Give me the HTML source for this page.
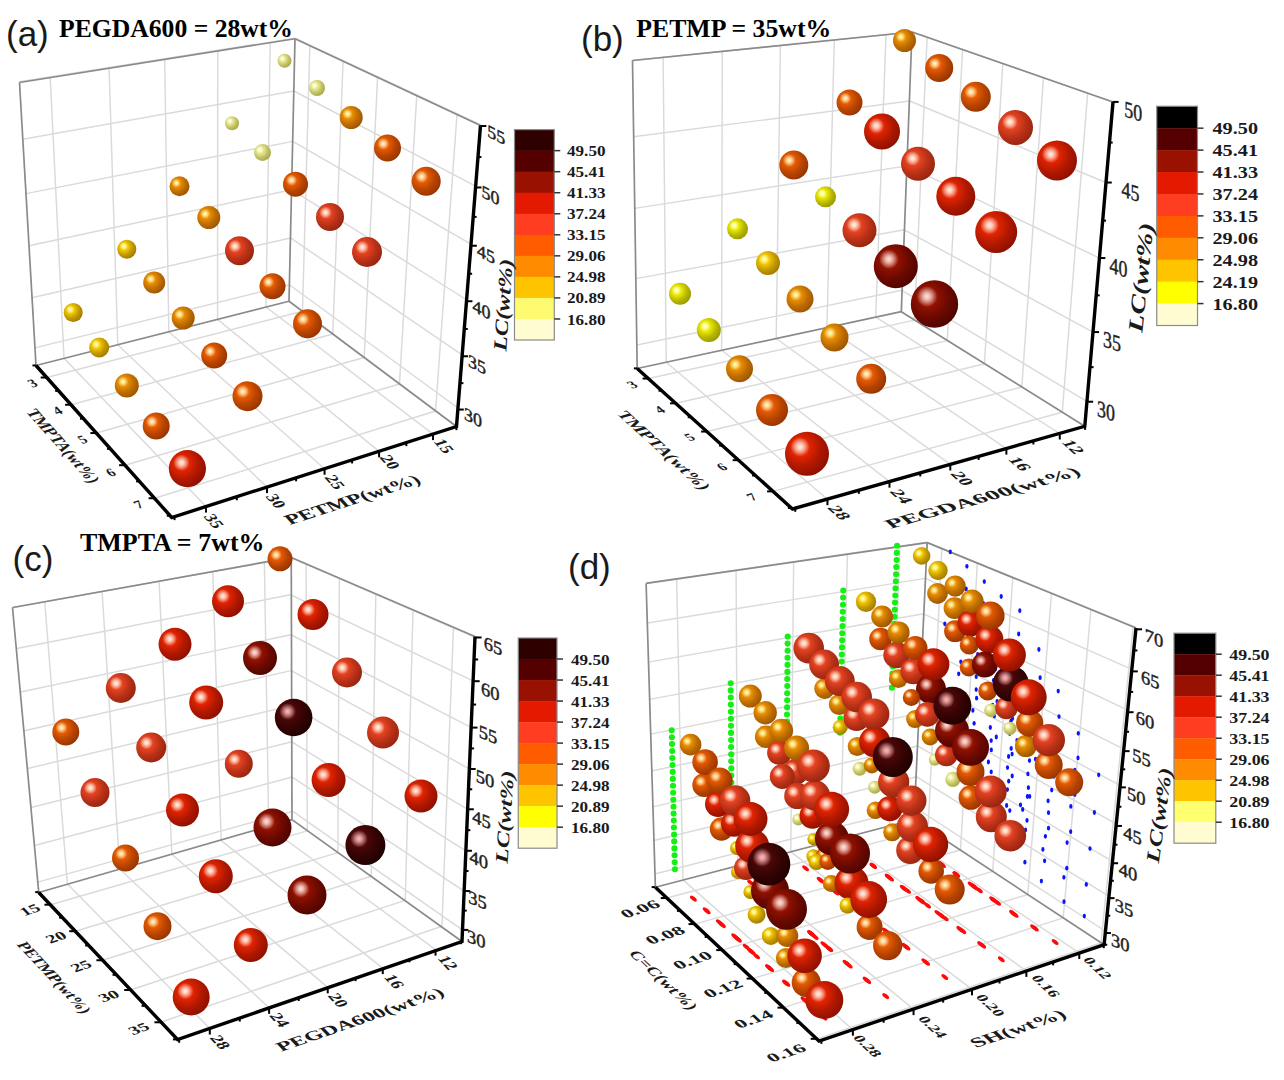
<!DOCTYPE html><html><head><meta charset="utf-8"><style>html,body{margin:0;padding:0;background:#fff;overflow:hidden}svg{display:block}</style></head><body><svg width="1284" height="1080" viewBox="0 0 1284 1080"><defs><radialGradient id="g0" cx="0.36" cy="0.36" r="0.76"><stop offset="0" stop-color="#fafac0"/><stop offset="0.3" stop-color="#e4e48c"/><stop offset="0.58" stop-color="#c2c266"/><stop offset="0.92" stop-color="#a6a646"/><stop offset="1" stop-color="#a6a646"/></radialGradient><radialGradient id="h0" cx="0.34" cy="0.34" r="0.22"><stop offset="0" stop-color="#ffffe8" stop-opacity="1"/><stop offset="0.3" stop-color="#ffffe8" stop-opacity="0.8"/><stop offset="1" stop-color="#ffffe8" stop-opacity="0"/></radialGradient><radialGradient id="g1" cx="0.36" cy="0.36" r="0.76"><stop offset="0" stop-color="#ffff60"/><stop offset="0.3" stop-color="#e6e600"/><stop offset="0.58" stop-color="#baba00"/><stop offset="0.92" stop-color="#969600"/><stop offset="1" stop-color="#969600"/></radialGradient><radialGradient id="h1" cx="0.34" cy="0.34" r="0.22"><stop offset="0" stop-color="#ffffd0" stop-opacity="1"/><stop offset="0.3" stop-color="#ffffd0" stop-opacity="0.8"/><stop offset="1" stop-color="#ffffd0" stop-opacity="0"/></radialGradient><radialGradient id="g2" cx="0.36" cy="0.36" r="0.76"><stop offset="0" stop-color="#fff050"/><stop offset="0.3" stop-color="#eec200"/><stop offset="0.58" stop-color="#c39900"/><stop offset="0.92" stop-color="#a07800"/><stop offset="1" stop-color="#a07800"/></radialGradient><radialGradient id="h2" cx="0.34" cy="0.34" r="0.22"><stop offset="0" stop-color="#ffffb0" stop-opacity="1"/><stop offset="0.3" stop-color="#ffffb0" stop-opacity="0.8"/><stop offset="1" stop-color="#ffffb0" stop-opacity="0"/></radialGradient><radialGradient id="g3" cx="0.36" cy="0.36" r="0.76"><stop offset="0" stop-color="#ffa830"/><stop offset="0.3" stop-color="#e48a00"/><stop offset="0.58" stop-color="#bc6c00"/><stop offset="0.92" stop-color="#9c5400"/><stop offset="1" stop-color="#9c5400"/></radialGradient><radialGradient id="h3" cx="0.34" cy="0.34" r="0.22"><stop offset="0" stop-color="#ffffb0" stop-opacity="1"/><stop offset="0.3" stop-color="#ffffb0" stop-opacity="0.8"/><stop offset="1" stop-color="#ffffb0" stop-opacity="0"/></radialGradient><radialGradient id="g4" cx="0.36" cy="0.36" r="0.76"><stop offset="0" stop-color="#ff7a30"/><stop offset="0.3" stop-color="#e05800"/><stop offset="0.58" stop-color="#b74400"/><stop offset="0.92" stop-color="#963400"/><stop offset="1" stop-color="#963400"/></radialGradient><radialGradient id="h4" cx="0.34" cy="0.34" r="0.22"><stop offset="0" stop-color="#fff8c0" stop-opacity="1"/><stop offset="0.3" stop-color="#fff8c0" stop-opacity="0.8"/><stop offset="1" stop-color="#fff8c0" stop-opacity="0"/></radialGradient><radialGradient id="g5" cx="0.36" cy="0.36" r="0.76"><stop offset="0" stop-color="#ff6444"/><stop offset="0.3" stop-color="#e04020"/><stop offset="0.58" stop-color="#b73117"/><stop offset="0.92" stop-color="#962410"/><stop offset="1" stop-color="#962410"/></radialGradient><radialGradient id="h5" cx="0.34" cy="0.34" r="0.22"><stop offset="0" stop-color="#fff4e0" stop-opacity="1"/><stop offset="0.3" stop-color="#fff4e0" stop-opacity="0.8"/><stop offset="1" stop-color="#fff4e0" stop-opacity="0"/></radialGradient><radialGradient id="g6" cx="0.36" cy="0.36" r="0.76"><stop offset="0" stop-color="#ff4424"/><stop offset="0.3" stop-color="#dc2200"/><stop offset="0.58" stop-color="#b01800"/><stop offset="0.92" stop-color="#8c1000"/><stop offset="1" stop-color="#8c1000"/></radialGradient><radialGradient id="h6" cx="0.34" cy="0.34" r="0.22"><stop offset="0" stop-color="#fff0e0" stop-opacity="1"/><stop offset="0.3" stop-color="#fff0e0" stop-opacity="0.8"/><stop offset="1" stop-color="#fff0e0" stop-opacity="0"/></radialGradient><radialGradient id="g7" cx="0.36" cy="0.36" r="0.76"><stop offset="0" stop-color="#b83020"/><stop offset="0.3" stop-color="#8c1000"/><stop offset="0.58" stop-color="#6a0900"/><stop offset="0.92" stop-color="#4e0400"/><stop offset="1" stop-color="#4e0400"/></radialGradient><radialGradient id="h7" cx="0.34" cy="0.34" r="0.22"><stop offset="0" stop-color="#ffe0d8" stop-opacity="1"/><stop offset="0.3" stop-color="#ffe0d8" stop-opacity="0.8"/><stop offset="1" stop-color="#ffe0d8" stop-opacity="0"/></radialGradient><radialGradient id="g8" cx="0.36" cy="0.36" r="0.76"><stop offset="0" stop-color="#842424"/><stop offset="0.3" stop-color="#640a08"/><stop offset="0.58" stop-color="#480404"/><stop offset="0.92" stop-color="#320000"/><stop offset="1" stop-color="#320000"/></radialGradient><radialGradient id="h8" cx="0.34" cy="0.34" r="0.22"><stop offset="0" stop-color="#ffc0c0" stop-opacity="1"/><stop offset="0.3" stop-color="#ffc0c0" stop-opacity="0.8"/><stop offset="1" stop-color="#ffc0c0" stop-opacity="0"/></radialGradient><radialGradient id="g9" cx="0.36" cy="0.36" r="0.76"><stop offset="0" stop-color="#641a1a"/><stop offset="0.3" stop-color="#480606"/><stop offset="0.58" stop-color="#320303"/><stop offset="0.92" stop-color="#200000"/><stop offset="1" stop-color="#200000"/></radialGradient><radialGradient id="h9" cx="0.34" cy="0.34" r="0.22"><stop offset="0" stop-color="#ffb8b8" stop-opacity="1"/><stop offset="0.3" stop-color="#ffb8b8" stop-opacity="0.8"/><stop offset="1" stop-color="#ffb8b8" stop-opacity="0"/></radialGradient></defs><rect width="1284" height="1080" fill="#fff"/><line x1="46.72" y1="377.51" x2="302.48" y2="311.28" stroke="#dadada" stroke-width="1.45"/><line x1="302.48" y1="311.28" x2="309.82" y2="45.68" stroke="#dadada" stroke-width="1.45"/><line x1="71.07" y1="404.75" x2="332.81" y2="334.00" stroke="#dadada" stroke-width="1.45"/><line x1="332.81" y1="334.00" x2="343.06" y2="61.21" stroke="#dadada" stroke-width="1.45"/><line x1="96.36" y1="433.05" x2="364.13" y2="357.47" stroke="#dadada" stroke-width="1.45"/><line x1="364.13" y1="357.47" x2="377.58" y2="77.33" stroke="#dadada" stroke-width="1.45"/><line x1="125.09" y1="465.19" x2="399.46" y2="383.94" stroke="#dadada" stroke-width="1.45"/><line x1="399.46" y1="383.94" x2="416.75" y2="95.62" stroke="#dadada" stroke-width="1.45"/><line x1="154.62" y1="498.23" x2="435.53" y2="410.97" stroke="#dadada" stroke-width="1.45"/><line x1="435.53" y1="410.97" x2="457.00" y2="114.42" stroke="#dadada" stroke-width="1.45"/><line x1="64.02" y1="358.33" x2="206.03" y2="506.57" stroke="#dadada" stroke-width="1.45"/><line x1="64.02" y1="358.33" x2="50.22" y2="77.67" stroke="#dadada" stroke-width="1.45"/><line x1="117.81" y1="344.67" x2="267.01" y2="487.10" stroke="#dadada" stroke-width="1.45"/><line x1="117.81" y1="344.67" x2="109.08" y2="68.33" stroke="#dadada" stroke-width="1.45"/><line x1="168.81" y1="331.71" x2="324.56" y2="468.73" stroke="#dadada" stroke-width="1.45"/><line x1="168.81" y1="331.71" x2="164.71" y2="59.50" stroke="#dadada" stroke-width="1.45"/><line x1="217.57" y1="319.33" x2="379.09" y2="451.32" stroke="#dadada" stroke-width="1.45"/><line x1="217.57" y1="319.33" x2="217.72" y2="51.09" stroke="#dadada" stroke-width="1.45"/><line x1="265.99" y1="307.03" x2="433.03" y2="434.10" stroke="#dadada" stroke-width="1.45"/><line x1="265.99" y1="307.03" x2="270.21" y2="42.76" stroke="#dadada" stroke-width="1.45"/><line x1="34.92" y1="347.87" x2="289.38" y2="284.75" stroke="#dadada" stroke-width="1.45"/><line x1="289.38" y1="284.75" x2="457.92" y2="408.03" stroke="#dadada" stroke-width="1.45"/><line x1="31.99" y1="297.67" x2="290.47" y2="237.94" stroke="#dadada" stroke-width="1.45"/><line x1="290.47" y1="237.94" x2="462.16" y2="354.84" stroke="#dadada" stroke-width="1.45"/><line x1="28.97" y1="245.81" x2="291.59" y2="189.72" stroke="#dadada" stroke-width="1.45"/><line x1="291.59" y1="189.72" x2="466.55" y2="299.75" stroke="#dadada" stroke-width="1.45"/><line x1="25.92" y1="193.66" x2="292.72" y2="141.37" stroke="#dadada" stroke-width="1.45"/><line x1="292.72" y1="141.37" x2="470.97" y2="244.21" stroke="#dadada" stroke-width="1.45"/><line x1="22.74" y1="139.19" x2="293.89" y2="91.01" stroke="#dadada" stroke-width="1.45"/><line x1="293.89" y1="91.01" x2="475.61" y2="186.03" stroke="#dadada" stroke-width="1.45"/><line x1="19.39" y1="81.78" x2="295.12" y2="38.10" stroke="#dadada" stroke-width="1.45"/><line x1="295.12" y1="38.10" x2="480.51" y2="124.54" stroke="#dadada" stroke-width="1.45"/><line x1="19.50" y1="82.50" x2="295.00" y2="38.75" stroke="#8a8a8a" stroke-width="1.7"/><line x1="295.00" y1="38.75" x2="480.50" y2="125.50" stroke="#8a8a8a" stroke-width="1.7"/><line x1="19.50" y1="82.50" x2="36.00" y2="365.50" stroke="#8a8a8a" stroke-width="1.7"/><line x1="295.00" y1="38.75" x2="289.00" y2="301.25" stroke="#8a8a8a" stroke-width="1.7"/><line x1="36.00" y1="365.50" x2="289.00" y2="301.25" stroke="#8a8a8a" stroke-width="1.7"/><line x1="289.00" y1="301.25" x2="456.50" y2="426.50" stroke="#8a8a8a" stroke-width="1.7"/><circle cx="284.5" cy="60.8" r="7.0" fill="url(#g0)"/><circle cx="284.5" cy="60.8" r="7.0" fill="url(#h0)"/><circle cx="317.0" cy="88.0" r="8.0" fill="url(#g0)"/><circle cx="317.0" cy="88.0" r="8.0" fill="url(#h0)"/><circle cx="351.2" cy="117.5" r="11.5" fill="url(#g3)"/><circle cx="351.2" cy="117.5" r="11.5" fill="url(#h3)"/><circle cx="232.0" cy="123.2" r="7.0" fill="url(#g0)"/><circle cx="232.0" cy="123.2" r="7.0" fill="url(#h0)"/><circle cx="387.5" cy="148.0" r="13.5" fill="url(#g4)"/><circle cx="387.5" cy="148.0" r="13.5" fill="url(#h4)"/><circle cx="262.5" cy="152.5" r="8.5" fill="url(#g0)"/><circle cx="262.5" cy="152.5" r="8.5" fill="url(#h0)"/><circle cx="426.2" cy="181.2" r="14.5" fill="url(#g4)"/><circle cx="426.2" cy="181.2" r="14.5" fill="url(#h4)"/><circle cx="295.5" cy="184.2" r="12.5" fill="url(#g4)"/><circle cx="295.5" cy="184.2" r="12.5" fill="url(#h4)"/><circle cx="179.5" cy="186.2" r="10.0" fill="url(#g3)"/><circle cx="179.5" cy="186.2" r="10.0" fill="url(#h3)"/><circle cx="330.0" cy="217.0" r="14.0" fill="url(#g5)"/><circle cx="330.0" cy="217.0" r="14.0" fill="url(#h5)"/><circle cx="208.8" cy="217.5" r="11.5" fill="url(#g3)"/><circle cx="208.8" cy="217.5" r="11.5" fill="url(#h3)"/><circle cx="126.8" cy="249.2" r="9.5" fill="url(#g2)"/><circle cx="126.8" cy="249.2" r="9.5" fill="url(#h2)"/><circle cx="239.5" cy="250.8" r="14.5" fill="url(#g5)"/><circle cx="239.5" cy="250.8" r="14.5" fill="url(#h5)"/><circle cx="367.0" cy="252.0" r="15.0" fill="url(#g5)"/><circle cx="367.0" cy="252.0" r="15.0" fill="url(#h5)"/><circle cx="154.2" cy="282.5" r="11.0" fill="url(#g3)"/><circle cx="154.2" cy="282.5" r="11.0" fill="url(#h3)"/><circle cx="272.5" cy="286.2" r="13.0" fill="url(#g4)"/><circle cx="272.5" cy="286.2" r="13.0" fill="url(#h4)"/><circle cx="73.2" cy="312.5" r="9.5" fill="url(#g2)"/><circle cx="73.2" cy="312.5" r="9.5" fill="url(#h2)"/><circle cx="183.2" cy="318.0" r="11.5" fill="url(#g3)"/><circle cx="183.2" cy="318.0" r="11.5" fill="url(#h3)"/><circle cx="307.5" cy="323.8" r="14.5" fill="url(#g4)"/><circle cx="307.5" cy="323.8" r="14.5" fill="url(#h4)"/><circle cx="99.2" cy="347.5" r="10.0" fill="url(#g2)"/><circle cx="99.2" cy="347.5" r="10.0" fill="url(#h2)"/><circle cx="214.2" cy="355.5" r="13.0" fill="url(#g4)"/><circle cx="214.2" cy="355.5" r="13.0" fill="url(#h4)"/><circle cx="126.8" cy="385.5" r="12.0" fill="url(#g3)"/><circle cx="126.8" cy="385.5" r="12.0" fill="url(#h3)"/><circle cx="247.5" cy="396.2" r="15.0" fill="url(#g4)"/><circle cx="247.5" cy="396.2" r="15.0" fill="url(#h4)"/><circle cx="156.2" cy="426.0" r="13.5" fill="url(#g4)"/><circle cx="156.2" cy="426.0" r="13.5" fill="url(#h4)"/><circle cx="187.4" cy="468.6" r="18.6" fill="url(#g6)"/><circle cx="187.4" cy="468.6" r="18.6" fill="url(#h6)"/><polyline points="36,365.5 171.7,517.5 456.5,426.5 480.5,125.5" fill="none" stroke="#000" stroke-width="3.4" stroke-linejoin="miter"/><line x1="46.72" y1="377.51" x2="40.72" y2="377.51" stroke="#000" stroke-width="2"/><line x1="58.69" y1="390.90" x2="55.19" y2="390.90" stroke="#000" stroke-width="2"/><line x1="71.07" y1="404.75" x2="65.07" y2="404.75" stroke="#000" stroke-width="2"/><line x1="83.50" y1="418.66" x2="80.00" y2="418.66" stroke="#000" stroke-width="2"/><line x1="96.36" y1="433.05" x2="90.36" y2="433.05" stroke="#000" stroke-width="2"/><line x1="110.45" y1="448.82" x2="106.95" y2="448.82" stroke="#000" stroke-width="2"/><line x1="125.09" y1="465.19" x2="119.09" y2="465.19" stroke="#000" stroke-width="2"/><line x1="139.58" y1="481.40" x2="136.08" y2="481.40" stroke="#000" stroke-width="2"/><line x1="154.62" y1="498.23" x2="148.62" y2="498.23" stroke="#000" stroke-width="2"/><line x1="35.95" y1="365.46" x2="32.45" y2="365.46" stroke="#000" stroke-width="2"/><line x1="170.25" y1="515.71" x2="166.75" y2="515.71" stroke="#000" stroke-width="2"/><line x1="206.03" y1="506.57" x2="206.03" y2="512.57" stroke="#000" stroke-width="2"/><line x1="236.85" y1="496.73" x2="236.85" y2="500.23" stroke="#000" stroke-width="2"/><line x1="267.01" y1="487.10" x2="267.01" y2="493.10" stroke="#000" stroke-width="2"/><line x1="296.09" y1="477.82" x2="296.09" y2="481.32" stroke="#000" stroke-width="2"/><line x1="324.56" y1="468.73" x2="324.56" y2="474.73" stroke="#000" stroke-width="2"/><line x1="352.10" y1="459.94" x2="352.10" y2="463.44" stroke="#000" stroke-width="2"/><line x1="379.09" y1="451.32" x2="379.09" y2="457.32" stroke="#000" stroke-width="2"/><line x1="406.34" y1="442.62" x2="406.34" y2="446.12" stroke="#000" stroke-width="2"/><line x1="433.03" y1="434.10" x2="433.03" y2="440.10" stroke="#000" stroke-width="2"/><line x1="174.51" y1="516.63" x2="174.51" y2="520.13" stroke="#000" stroke-width="2"/><line x1="456.43" y1="426.63" x2="456.43" y2="430.13" stroke="#000" stroke-width="2"/><line x1="457.80" y1="409.55" x2="463.80" y2="409.55" stroke="#000" stroke-width="2"/><line x1="459.90" y1="383.14" x2="463.40" y2="383.14" stroke="#000" stroke-width="2"/><line x1="462.04" y1="356.27" x2="468.04" y2="356.27" stroke="#000" stroke-width="2"/><line x1="464.22" y1="329.00" x2="467.72" y2="329.00" stroke="#000" stroke-width="2"/><line x1="466.43" y1="301.24" x2="472.43" y2="301.24" stroke="#000" stroke-width="2"/><line x1="468.62" y1="273.74" x2="472.12" y2="273.74" stroke="#000" stroke-width="2"/><line x1="470.85" y1="245.75" x2="476.85" y2="245.75" stroke="#000" stroke-width="2"/><line x1="473.15" y1="216.87" x2="476.65" y2="216.87" stroke="#000" stroke-width="2"/><line x1="475.49" y1="187.47" x2="481.49" y2="187.47" stroke="#000" stroke-width="2"/><line x1="477.92" y1="157.04" x2="481.42" y2="157.04" stroke="#000" stroke-width="2"/><line x1="480.39" y1="126.03" x2="486.39" y2="126.03" stroke="#000" stroke-width="2"/><rect x="514.5" y="129.60" width="39.799999999999955" height="21.34" fill="#2e0000"/><rect x="514.5" y="150.64" width="39.799999999999955" height="21.34" fill="#550000"/><rect x="514.5" y="171.68" width="39.799999999999955" height="21.34" fill="#991100"/><rect x="514.5" y="192.72" width="39.799999999999955" height="21.34" fill="#e41a00"/><rect x="514.5" y="213.76" width="39.799999999999955" height="21.34" fill="#ff3d20"/><rect x="514.5" y="234.80" width="39.799999999999955" height="21.34" fill="#ff5c00"/><rect x="514.5" y="255.84" width="39.799999999999955" height="21.34" fill="#ff8c00"/><rect x="514.5" y="276.88" width="39.799999999999955" height="21.34" fill="#ffc400"/><rect x="514.5" y="297.92" width="39.799999999999955" height="21.34" fill="#fffb70"/><rect x="514.5" y="318.96" width="39.799999999999955" height="21.34" fill="#fffcd2"/><rect x="514.5" y="129.6" width="39.799999999999955" height="210.4" fill="none" stroke="#8a8a8a" stroke-width="1.2"/><line x1="554.30" y1="150.64" x2="560.30" y2="150.64" stroke="#333" stroke-width="1.5"/><text x="567" y="151.1" font-family="Liberation Serif" font-weight="bold" font-size="15" dominant-baseline="central" fill="#1a1a1a" textLength="38.5" lengthAdjust="spacingAndGlyphs">49.50</text><line x1="554.30" y1="171.68" x2="560.30" y2="171.68" stroke="#333" stroke-width="1.5"/><text x="567" y="172.2" font-family="Liberation Serif" font-weight="bold" font-size="15" dominant-baseline="central" fill="#1a1a1a" textLength="38.5" lengthAdjust="spacingAndGlyphs">45.41</text><line x1="554.30" y1="192.72" x2="560.30" y2="192.72" stroke="#333" stroke-width="1.5"/><text x="567" y="193.2" font-family="Liberation Serif" font-weight="bold" font-size="15" dominant-baseline="central" fill="#1a1a1a" textLength="38.5" lengthAdjust="spacingAndGlyphs">41.33</text><line x1="554.30" y1="213.76" x2="560.30" y2="213.76" stroke="#333" stroke-width="1.5"/><text x="567" y="214.3" font-family="Liberation Serif" font-weight="bold" font-size="15" dominant-baseline="central" fill="#1a1a1a" textLength="38.5" lengthAdjust="spacingAndGlyphs">37.24</text><line x1="554.30" y1="234.80" x2="560.30" y2="234.80" stroke="#333" stroke-width="1.5"/><text x="567" y="235.3" font-family="Liberation Serif" font-weight="bold" font-size="15" dominant-baseline="central" fill="#1a1a1a" textLength="38.5" lengthAdjust="spacingAndGlyphs">33.15</text><line x1="554.30" y1="255.84" x2="560.30" y2="255.84" stroke="#333" stroke-width="1.5"/><text x="567" y="256.3" font-family="Liberation Serif" font-weight="bold" font-size="15" dominant-baseline="central" fill="#1a1a1a" textLength="38.5" lengthAdjust="spacingAndGlyphs">29.06</text><line x1="554.30" y1="276.88" x2="560.30" y2="276.88" stroke="#333" stroke-width="1.5"/><text x="567" y="277.4" font-family="Liberation Serif" font-weight="bold" font-size="15" dominant-baseline="central" fill="#1a1a1a" textLength="38.5" lengthAdjust="spacingAndGlyphs">24.98</text><line x1="554.30" y1="297.92" x2="560.30" y2="297.92" stroke="#333" stroke-width="1.5"/><text x="567" y="298.4" font-family="Liberation Serif" font-weight="bold" font-size="15" dominant-baseline="central" fill="#1a1a1a" textLength="38.5" lengthAdjust="spacingAndGlyphs">20.89</text><line x1="554.30" y1="318.96" x2="560.30" y2="318.96" stroke="#333" stroke-width="1.5"/><text x="567" y="319.5" font-family="Liberation Serif" font-weight="bold" font-size="15" dominant-baseline="central" fill="#1a1a1a" textLength="38.5" lengthAdjust="spacingAndGlyphs">16.80</text><line x1="648.59" y1="378.55" x2="914.40" y2="320.16" stroke="#dadada" stroke-width="1.45"/><line x1="914.40" y1="320.16" x2="927.14" y2="37.11" stroke="#dadada" stroke-width="1.45"/><line x1="675.94" y1="403.33" x2="947.27" y2="340.61" stroke="#dadada" stroke-width="1.45"/><line x1="947.27" y1="340.61" x2="962.57" y2="49.49" stroke="#dadada" stroke-width="1.45"/><line x1="707.09" y1="431.56" x2="984.45" y2="363.75" stroke="#dadada" stroke-width="1.45"/><line x1="984.45" y1="363.75" x2="1002.81" y2="63.54" stroke="#dadada" stroke-width="1.45"/><line x1="738.64" y1="460.16" x2="1021.83" y2="387.00" stroke="#dadada" stroke-width="1.45"/><line x1="1021.83" y1="387.00" x2="1043.45" y2="77.74" stroke="#dadada" stroke-width="1.45"/><line x1="773.09" y1="491.38" x2="1062.29" y2="412.18" stroke="#dadada" stroke-width="1.45"/><line x1="1062.29" y1="412.18" x2="1087.65" y2="93.17" stroke="#dadada" stroke-width="1.45"/><line x1="666.23" y1="362.18" x2="827.44" y2="499.21" stroke="#dadada" stroke-width="1.45"/><line x1="666.23" y1="362.18" x2="663.12" y2="57.43" stroke="#dadada" stroke-width="1.45"/><line x1="721.61" y1="350.27" x2="889.47" y2="481.66" stroke="#dadada" stroke-width="1.45"/><line x1="721.61" y1="350.27" x2="722.26" y2="51.40" stroke="#dadada" stroke-width="1.45"/><line x1="776.20" y1="338.53" x2="950.28" y2="464.46" stroke="#dadada" stroke-width="1.45"/><line x1="776.20" y1="338.53" x2="780.40" y2="45.48" stroke="#dadada" stroke-width="1.45"/><line x1="826.93" y1="327.62" x2="1006.37" y2="448.60" stroke="#dadada" stroke-width="1.45"/><line x1="826.93" y1="327.62" x2="834.30" y2="39.99" stroke="#dadada" stroke-width="1.45"/><line x1="875.72" y1="317.13" x2="1059.78" y2="433.50" stroke="#dadada" stroke-width="1.45"/><line x1="875.72" y1="317.13" x2="885.99" y2="34.73" stroke="#dadada" stroke-width="1.45"/><line x1="636.98" y1="344.94" x2="901.74" y2="290.29" stroke="#dadada" stroke-width="1.45"/><line x1="901.74" y1="290.29" x2="1087.16" y2="401.73" stroke="#dadada" stroke-width="1.45"/><line x1="635.87" y1="278.65" x2="904.28" y2="229.80" stroke="#dadada" stroke-width="1.45"/><line x1="904.28" y1="229.80" x2="1093.07" y2="332.06" stroke="#dadada" stroke-width="1.45"/><line x1="634.70" y1="208.37" x2="906.96" y2="165.86" stroke="#dadada" stroke-width="1.45"/><line x1="906.96" y1="165.86" x2="1099.36" y2="258.04" stroke="#dadada" stroke-width="1.45"/><line x1="633.50" y1="136.83" x2="909.68" y2="100.97" stroke="#dadada" stroke-width="1.45"/><line x1="909.68" y1="100.97" x2="1105.77" y2="182.54" stroke="#dadada" stroke-width="1.45"/><line x1="632.23" y1="60.57" x2="912.57" y2="32.02" stroke="#dadada" stroke-width="1.45"/><line x1="912.57" y1="32.02" x2="1112.62" y2="101.90" stroke="#dadada" stroke-width="1.45"/><line x1="632.50" y1="60.50" x2="912.00" y2="32.00" stroke="#8a8a8a" stroke-width="1.7"/><line x1="912.00" y1="32.00" x2="1113.00" y2="102.00" stroke="#8a8a8a" stroke-width="1.7"/><line x1="632.50" y1="60.50" x2="637.20" y2="368.50" stroke="#8a8a8a" stroke-width="1.7"/><line x1="912.00" y1="32.00" x2="901.30" y2="311.70" stroke="#8a8a8a" stroke-width="1.7"/><line x1="637.20" y1="368.50" x2="901.30" y2="311.70" stroke="#8a8a8a" stroke-width="1.7"/><line x1="901.30" y1="311.70" x2="1084.80" y2="426.30" stroke="#8a8a8a" stroke-width="1.7"/><circle cx="904.5" cy="40.5" r="11.5" fill="url(#g3)"/><circle cx="904.5" cy="40.5" r="11.5" fill="url(#h3)"/><circle cx="939.2" cy="68.0" r="14.0" fill="url(#g4)"/><circle cx="939.2" cy="68.0" r="14.0" fill="url(#h4)"/><circle cx="975.8" cy="96.8" r="15.0" fill="url(#g4)"/><circle cx="975.8" cy="96.8" r="15.0" fill="url(#h4)"/><circle cx="849.5" cy="102.5" r="13.0" fill="url(#g4)"/><circle cx="849.5" cy="102.5" r="13.0" fill="url(#h4)"/><circle cx="1015.5" cy="127.5" r="17.5" fill="url(#g5)"/><circle cx="1015.5" cy="127.5" r="17.5" fill="url(#h5)"/><circle cx="882.0" cy="131.5" r="18.0" fill="url(#g6)"/><circle cx="882.0" cy="131.5" r="18.0" fill="url(#h6)"/><circle cx="1057.0" cy="160.5" r="20.0" fill="url(#g6)"/><circle cx="1057.0" cy="160.5" r="20.0" fill="url(#h6)"/><circle cx="918.0" cy="163.8" r="17.0" fill="url(#g5)"/><circle cx="918.0" cy="163.8" r="17.0" fill="url(#h5)"/><circle cx="793.8" cy="165.0" r="14.5" fill="url(#g4)"/><circle cx="793.8" cy="165.0" r="14.5" fill="url(#h4)"/><circle cx="955.8" cy="196.2" r="19.5" fill="url(#g6)"/><circle cx="955.8" cy="196.2" r="19.5" fill="url(#h6)"/><circle cx="825.5" cy="196.8" r="10.5" fill="url(#g1)"/><circle cx="825.5" cy="196.8" r="10.5" fill="url(#h1)"/><circle cx="737.5" cy="228.8" r="10.5" fill="url(#g1)"/><circle cx="737.5" cy="228.8" r="10.5" fill="url(#h1)"/><circle cx="859.5" cy="230.2" r="17.0" fill="url(#g5)"/><circle cx="859.5" cy="230.2" r="17.0" fill="url(#h5)"/><circle cx="996.2" cy="232.0" r="21.0" fill="url(#g6)"/><circle cx="996.2" cy="232.0" r="21.0" fill="url(#h6)"/><circle cx="768.0" cy="263.0" r="12.0" fill="url(#g2)"/><circle cx="768.0" cy="263.0" r="12.0" fill="url(#h2)"/><circle cx="895.8" cy="266.2" r="22.0" fill="url(#g7)"/><circle cx="895.8" cy="266.2" r="22.0" fill="url(#h7)"/><circle cx="680.0" cy="293.8" r="11.0" fill="url(#g1)"/><circle cx="680.0" cy="293.8" r="11.0" fill="url(#h1)"/><circle cx="800.0" cy="299.0" r="13.5" fill="url(#g3)"/><circle cx="800.0" cy="299.0" r="13.5" fill="url(#h3)"/><circle cx="934.5" cy="304.0" r="23.7" fill="url(#g7)"/><circle cx="934.5" cy="304.0" r="23.7" fill="url(#h7)"/><circle cx="708.8" cy="330.0" r="12.0" fill="url(#g1)"/><circle cx="708.8" cy="330.0" r="12.0" fill="url(#h1)"/><circle cx="834.5" cy="337.5" r="14.0" fill="url(#g3)"/><circle cx="834.5" cy="337.5" r="14.0" fill="url(#h3)"/><circle cx="739.5" cy="368.8" r="13.5" fill="url(#g3)"/><circle cx="739.5" cy="368.8" r="13.5" fill="url(#h3)"/><circle cx="871.2" cy="378.8" r="15.0" fill="url(#g4)"/><circle cx="871.2" cy="378.8" r="15.0" fill="url(#h4)"/><circle cx="772.0" cy="410.0" r="16.0" fill="url(#g4)"/><circle cx="772.0" cy="410.0" r="16.0" fill="url(#h4)"/><circle cx="807.0" cy="453.8" r="22.0" fill="url(#g6)"/><circle cx="807.0" cy="453.8" r="22.0" fill="url(#h6)"/><polyline points="637.2,368.5 792.5,509 1084.8,426.3 1113,102" fill="none" stroke="#000" stroke-width="3.4" stroke-linejoin="miter"/><line x1="648.59" y1="378.55" x2="642.59" y2="378.55" stroke="#000" stroke-width="2"/><line x1="662.03" y1="390.73" x2="658.53" y2="390.73" stroke="#000" stroke-width="2"/><line x1="675.94" y1="403.33" x2="669.94" y2="403.33" stroke="#000" stroke-width="2"/><line x1="691.22" y1="417.18" x2="687.72" y2="417.18" stroke="#000" stroke-width="2"/><line x1="707.09" y1="431.56" x2="701.09" y2="431.56" stroke="#000" stroke-width="2"/><line x1="722.58" y1="445.60" x2="719.08" y2="445.60" stroke="#000" stroke-width="2"/><line x1="738.64" y1="460.16" x2="732.64" y2="460.16" stroke="#000" stroke-width="2"/><line x1="755.53" y1="475.47" x2="752.03" y2="475.47" stroke="#000" stroke-width="2"/><line x1="773.09" y1="491.38" x2="767.09" y2="491.38" stroke="#000" stroke-width="2"/><line x1="637.37" y1="368.38" x2="633.87" y2="368.38" stroke="#000" stroke-width="2"/><line x1="791.34" y1="507.92" x2="787.84" y2="507.92" stroke="#000" stroke-width="2"/><line x1="827.44" y1="499.21" x2="827.44" y2="505.21" stroke="#000" stroke-width="2"/><line x1="858.84" y1="490.33" x2="858.84" y2="493.83" stroke="#000" stroke-width="2"/><line x1="889.47" y1="481.66" x2="889.47" y2="487.66" stroke="#000" stroke-width="2"/><line x1="920.25" y1="472.96" x2="920.25" y2="476.46" stroke="#000" stroke-width="2"/><line x1="950.28" y1="464.46" x2="950.28" y2="470.46" stroke="#000" stroke-width="2"/><line x1="978.66" y1="456.44" x2="978.66" y2="459.94" stroke="#000" stroke-width="2"/><line x1="1006.37" y1="448.60" x2="1006.37" y2="454.60" stroke="#000" stroke-width="2"/><line x1="1033.38" y1="440.96" x2="1033.38" y2="444.46" stroke="#000" stroke-width="2"/><line x1="1059.78" y1="433.50" x2="1059.78" y2="439.50" stroke="#000" stroke-width="2"/><line x1="795.24" y1="508.31" x2="795.24" y2="511.81" stroke="#000" stroke-width="2"/><line x1="1085.07" y1="426.35" x2="1085.07" y2="429.85" stroke="#000" stroke-width="2"/><line x1="1087.16" y1="401.73" x2="1093.16" y2="401.73" stroke="#000" stroke-width="2"/><line x1="1090.09" y1="367.17" x2="1093.59" y2="367.17" stroke="#000" stroke-width="2"/><line x1="1093.07" y1="332.06" x2="1099.07" y2="332.06" stroke="#000" stroke-width="2"/><line x1="1096.19" y1="295.35" x2="1099.69" y2="295.35" stroke="#000" stroke-width="2"/><line x1="1099.36" y1="258.04" x2="1105.36" y2="258.04" stroke="#000" stroke-width="2"/><line x1="1102.54" y1="220.60" x2="1106.04" y2="220.60" stroke="#000" stroke-width="2"/><line x1="1105.77" y1="182.54" x2="1111.77" y2="182.54" stroke="#000" stroke-width="2"/><line x1="1109.17" y1="142.57" x2="1112.67" y2="142.57" stroke="#000" stroke-width="2"/><line x1="1112.62" y1="101.90" x2="1118.62" y2="101.90" stroke="#000" stroke-width="2"/><rect x="1156.75" y="106.25" width="40.75" height="22.23" fill="#000000"/><rect x="1156.75" y="128.18" width="40.75" height="22.23" fill="#550000"/><rect x="1156.75" y="150.10" width="40.75" height="22.23" fill="#991100"/><rect x="1156.75" y="172.03" width="40.75" height="22.23" fill="#e41a00"/><rect x="1156.75" y="193.95" width="40.75" height="22.23" fill="#ff3d20"/><rect x="1156.75" y="215.88" width="40.75" height="22.23" fill="#ff5c00"/><rect x="1156.75" y="237.80" width="40.75" height="22.23" fill="#ff8c00"/><rect x="1156.75" y="259.73" width="40.75" height="22.23" fill="#ffc400"/><rect x="1156.75" y="281.65" width="40.75" height="22.23" fill="#ffff00"/><rect x="1156.75" y="303.58" width="40.75" height="22.23" fill="#fffcd2"/><rect x="1156.75" y="106.25" width="40.75" height="219.25" fill="none" stroke="#8a8a8a" stroke-width="1.2"/><line x1="1197.50" y1="128.18" x2="1203.50" y2="128.18" stroke="#333" stroke-width="1.5"/><text x="1212.5" y="128.7" font-family="Liberation Serif" font-weight="bold" font-size="16.5" dominant-baseline="central" fill="#1a1a1a" textLength="45.5" lengthAdjust="spacingAndGlyphs">49.50</text><line x1="1197.50" y1="150.10" x2="1203.50" y2="150.10" stroke="#333" stroke-width="1.5"/><text x="1212.5" y="150.6" font-family="Liberation Serif" font-weight="bold" font-size="16.5" dominant-baseline="central" fill="#1a1a1a" textLength="45.5" lengthAdjust="spacingAndGlyphs">45.41</text><line x1="1197.50" y1="172.03" x2="1203.50" y2="172.03" stroke="#333" stroke-width="1.5"/><text x="1212.5" y="172.5" font-family="Liberation Serif" font-weight="bold" font-size="16.5" dominant-baseline="central" fill="#1a1a1a" textLength="45.5" lengthAdjust="spacingAndGlyphs">41.33</text><line x1="1197.50" y1="193.95" x2="1203.50" y2="193.95" stroke="#333" stroke-width="1.5"/><text x="1212.5" y="194.4" font-family="Liberation Serif" font-weight="bold" font-size="16.5" dominant-baseline="central" fill="#1a1a1a" textLength="45.5" lengthAdjust="spacingAndGlyphs">37.24</text><line x1="1197.50" y1="215.88" x2="1203.50" y2="215.88" stroke="#333" stroke-width="1.5"/><text x="1212.5" y="216.4" font-family="Liberation Serif" font-weight="bold" font-size="16.5" dominant-baseline="central" fill="#1a1a1a" textLength="45.5" lengthAdjust="spacingAndGlyphs">33.15</text><line x1="1197.50" y1="237.80" x2="1203.50" y2="237.80" stroke="#333" stroke-width="1.5"/><text x="1212.5" y="238.3" font-family="Liberation Serif" font-weight="bold" font-size="16.5" dominant-baseline="central" fill="#1a1a1a" textLength="45.5" lengthAdjust="spacingAndGlyphs">29.06</text><line x1="1197.50" y1="259.73" x2="1203.50" y2="259.73" stroke="#333" stroke-width="1.5"/><text x="1212.5" y="260.2" font-family="Liberation Serif" font-weight="bold" font-size="16.5" dominant-baseline="central" fill="#1a1a1a" textLength="45.5" lengthAdjust="spacingAndGlyphs">24.98</text><line x1="1197.50" y1="281.65" x2="1203.50" y2="281.65" stroke="#333" stroke-width="1.5"/><text x="1212.5" y="282.1" font-family="Liberation Serif" font-weight="bold" font-size="16.5" dominant-baseline="central" fill="#1a1a1a" textLength="45.5" lengthAdjust="spacingAndGlyphs">24.19</text><line x1="1197.50" y1="303.58" x2="1203.50" y2="303.58" stroke="#333" stroke-width="1.5"/><text x="1212.5" y="304.1" font-family="Liberation Serif" font-weight="bold" font-size="16.5" dominant-baseline="central" fill="#1a1a1a" textLength="45.5" lengthAdjust="spacingAndGlyphs">16.80</text><line x1="50.46" y1="904.70" x2="307.24" y2="830.88" stroke="#dadada" stroke-width="1.45"/><line x1="307.24" y1="830.88" x2="306.06" y2="563.82" stroke="#dadada" stroke-width="1.45"/><line x1="75.23" y1="931.19" x2="337.89" y2="852.60" stroke="#dadada" stroke-width="1.45"/><line x1="337.89" y1="852.60" x2="339.32" y2="578.20" stroke="#dadada" stroke-width="1.45"/><line x1="102.41" y1="960.25" x2="371.31" y2="876.28" stroke="#dadada" stroke-width="1.45"/><line x1="371.31" y1="876.28" x2="375.78" y2="593.97" stroke="#dadada" stroke-width="1.45"/><line x1="130.20" y1="989.98" x2="405.25" y2="900.32" stroke="#dadada" stroke-width="1.45"/><line x1="405.25" y1="900.32" x2="413.02" y2="610.07" stroke="#dadada" stroke-width="1.45"/><line x1="160.42" y1="1022.29" x2="441.89" y2="926.28" stroke="#dadada" stroke-width="1.45"/><line x1="441.89" y1="926.28" x2="453.47" y2="627.57" stroke="#dadada" stroke-width="1.45"/><line x1="67.45" y1="883.96" x2="209.79" y2="1028.56" stroke="#dadada" stroke-width="1.45"/><line x1="67.45" y1="883.96" x2="44.70" y2="601.72" stroke="#dadada" stroke-width="1.45"/><line x1="119.80" y1="869.20" x2="269.10" y2="1007.82" stroke="#dadada" stroke-width="1.45"/><line x1="119.80" y1="869.20" x2="102.10" y2="591.25" stroke="#dadada" stroke-width="1.45"/><line x1="171.93" y1="854.51" x2="327.74" y2="987.33" stroke="#dadada" stroke-width="1.45"/><line x1="171.93" y1="854.51" x2="159.07" y2="580.87" stroke="#dadada" stroke-width="1.45"/><line x1="221.19" y1="840.62" x2="382.77" y2="968.09" stroke="#dadada" stroke-width="1.45"/><line x1="221.19" y1="840.62" x2="212.74" y2="571.09" stroke="#dadada" stroke-width="1.45"/><line x1="268.73" y1="827.22" x2="435.53" y2="949.65" stroke="#dadada" stroke-width="1.45"/><line x1="268.73" y1="827.22" x2="264.37" y2="561.68" stroke="#dadada" stroke-width="1.45"/><line x1="37.76" y1="882.13" x2="292.49" y2="811.21" stroke="#dadada" stroke-width="1.45"/><line x1="292.49" y1="811.21" x2="462.35" y2="929.91" stroke="#dadada" stroke-width="1.45"/><line x1="34.47" y1="845.47" x2="292.19" y2="777.05" stroke="#dadada" stroke-width="1.45"/><line x1="292.19" y1="777.05" x2="464.11" y2="891.05" stroke="#dadada" stroke-width="1.45"/><line x1="31.05" y1="807.53" x2="291.87" y2="741.77" stroke="#dadada" stroke-width="1.45"/><line x1="291.87" y1="741.77" x2="465.94" y2="850.77" stroke="#dadada" stroke-width="1.45"/><line x1="27.54" y1="768.54" x2="291.55" y2="705.59" stroke="#dadada" stroke-width="1.45"/><line x1="291.55" y1="705.59" x2="467.82" y2="809.29" stroke="#dadada" stroke-width="1.45"/><line x1="24.14" y1="730.76" x2="291.23" y2="670.60" stroke="#dadada" stroke-width="1.45"/><line x1="291.23" y1="670.60" x2="469.65" y2="769.03" stroke="#dadada" stroke-width="1.45"/><line x1="20.65" y1="691.95" x2="290.91" y2="634.74" stroke="#dadada" stroke-width="1.45"/><line x1="290.91" y1="634.74" x2="471.53" y2="727.59" stroke="#dadada" stroke-width="1.45"/><line x1="16.75" y1="648.58" x2="290.55" y2="594.76" stroke="#dadada" stroke-width="1.45"/><line x1="290.55" y1="594.76" x2="473.64" y2="681.20" stroke="#dadada" stroke-width="1.45"/><line x1="13.08" y1="607.80" x2="290.22" y2="557.25" stroke="#dadada" stroke-width="1.45"/><line x1="290.22" y1="557.25" x2="475.62" y2="637.49" stroke="#dadada" stroke-width="1.45"/><line x1="12.50" y1="607.50" x2="291.25" y2="557.50" stroke="#8a8a8a" stroke-width="1.7"/><line x1="291.25" y1="557.50" x2="475.00" y2="636.50" stroke="#8a8a8a" stroke-width="1.7"/><line x1="12.50" y1="607.50" x2="38.75" y2="892.50" stroke="#8a8a8a" stroke-width="1.7"/><line x1="291.25" y1="557.50" x2="292.00" y2="819.60" stroke="#8a8a8a" stroke-width="1.7"/><line x1="38.75" y1="892.50" x2="292.00" y2="819.60" stroke="#8a8a8a" stroke-width="1.7"/><line x1="292.00" y1="819.60" x2="462.00" y2="941.50" stroke="#8a8a8a" stroke-width="1.7"/><circle cx="280.0" cy="558.8" r="12.5" fill="url(#g4)"/><circle cx="280.0" cy="558.8" r="12.5" fill="url(#h4)"/><circle cx="228.0" cy="601.2" r="16.0" fill="url(#g6)"/><circle cx="228.0" cy="601.2" r="16.0" fill="url(#h6)"/><circle cx="313.0" cy="614.5" r="15.5" fill="url(#g6)"/><circle cx="313.0" cy="614.5" r="15.5" fill="url(#h6)"/><circle cx="175.0" cy="644.2" r="16.5" fill="url(#g6)"/><circle cx="175.0" cy="644.2" r="16.5" fill="url(#h6)"/><circle cx="260.0" cy="658.0" r="17.0" fill="url(#g7)"/><circle cx="260.0" cy="658.0" r="17.0" fill="url(#h7)"/><circle cx="347.0" cy="672.5" r="15.0" fill="url(#g5)"/><circle cx="347.0" cy="672.5" r="15.0" fill="url(#h5)"/><circle cx="120.8" cy="688.0" r="15.0" fill="url(#g5)"/><circle cx="120.8" cy="688.0" r="15.0" fill="url(#h5)"/><circle cx="206.2" cy="702.5" r="17.0" fill="url(#g6)"/><circle cx="206.2" cy="702.5" r="17.0" fill="url(#h6)"/><circle cx="293.6" cy="717.5" r="18.8" fill="url(#g9)"/><circle cx="293.6" cy="717.5" r="18.8" fill="url(#h9)"/><circle cx="65.8" cy="732.0" r="13.5" fill="url(#g4)"/><circle cx="65.8" cy="732.0" r="13.5" fill="url(#h4)"/><circle cx="383.0" cy="732.5" r="16.0" fill="url(#g5)"/><circle cx="383.0" cy="732.5" r="16.0" fill="url(#h5)"/><circle cx="151.2" cy="747.5" r="15.0" fill="url(#g5)"/><circle cx="151.2" cy="747.5" r="15.0" fill="url(#h5)"/><circle cx="238.8" cy="763.8" r="14.0" fill="url(#g5)"/><circle cx="238.8" cy="763.8" r="14.0" fill="url(#h5)"/><circle cx="328.6" cy="780.0" r="17.0" fill="url(#g6)"/><circle cx="328.6" cy="780.0" r="17.0" fill="url(#h6)"/><circle cx="95.0" cy="792.5" r="14.5" fill="url(#g5)"/><circle cx="95.0" cy="792.5" r="14.5" fill="url(#h5)"/><circle cx="421.0" cy="796.0" r="16.5" fill="url(#g6)"/><circle cx="421.0" cy="796.0" r="16.5" fill="url(#h6)"/><circle cx="182.5" cy="810.0" r="16.5" fill="url(#g6)"/><circle cx="182.5" cy="810.0" r="16.5" fill="url(#h6)"/><circle cx="272.5" cy="827.5" r="19.0" fill="url(#g7)"/><circle cx="272.5" cy="827.5" r="19.0" fill="url(#h7)"/><circle cx="365.4" cy="845.1" r="20.0" fill="url(#g9)"/><circle cx="365.4" cy="845.1" r="20.0" fill="url(#h9)"/><circle cx="125.5" cy="858.0" r="13.5" fill="url(#g4)"/><circle cx="125.5" cy="858.0" r="13.5" fill="url(#h4)"/><circle cx="215.8" cy="876.2" r="17.0" fill="url(#g6)"/><circle cx="215.8" cy="876.2" r="17.0" fill="url(#h6)"/><circle cx="307.0" cy="895.0" r="19.5" fill="url(#g7)"/><circle cx="307.0" cy="895.0" r="19.5" fill="url(#h7)"/><circle cx="157.5" cy="926.2" r="14.0" fill="url(#g4)"/><circle cx="157.5" cy="926.2" r="14.0" fill="url(#h4)"/><circle cx="250.8" cy="945.0" r="17.0" fill="url(#g6)"/><circle cx="250.8" cy="945.0" r="17.0" fill="url(#h6)"/><circle cx="191.2" cy="997.0" r="18.5" fill="url(#g6)"/><circle cx="191.2" cy="997.0" r="18.5" fill="url(#h6)"/><polyline points="38.75,892.5 177.5,1039.5 462,941.5 475,636.5" fill="none" stroke="#000" stroke-width="3.4" stroke-linejoin="miter"/><line x1="50.46" y1="904.70" x2="44.46" y2="904.70" stroke="#000" stroke-width="2"/><line x1="62.63" y1="917.71" x2="59.13" y2="917.71" stroke="#000" stroke-width="2"/><line x1="75.23" y1="931.19" x2="69.23" y2="931.19" stroke="#000" stroke-width="2"/><line x1="88.57" y1="945.46" x2="85.07" y2="945.46" stroke="#000" stroke-width="2"/><line x1="102.41" y1="960.25" x2="96.41" y2="960.25" stroke="#000" stroke-width="2"/><line x1="116.06" y1="974.85" x2="112.56" y2="974.85" stroke="#000" stroke-width="2"/><line x1="130.20" y1="989.98" x2="124.20" y2="989.98" stroke="#000" stroke-width="2"/><line x1="145.03" y1="1005.83" x2="141.53" y2="1005.83" stroke="#000" stroke-width="2"/><line x1="160.42" y1="1022.29" x2="154.42" y2="1022.29" stroke="#000" stroke-width="2"/><line x1="38.69" y1="892.11" x2="35.19" y2="892.11" stroke="#000" stroke-width="2"/><line x1="176.42" y1="1039.40" x2="172.92" y2="1039.40" stroke="#000" stroke-width="2"/><line x1="209.79" y1="1028.56" x2="209.79" y2="1034.56" stroke="#000" stroke-width="2"/><line x1="239.78" y1="1018.08" x2="239.78" y2="1021.58" stroke="#000" stroke-width="2"/><line x1="269.10" y1="1007.82" x2="269.10" y2="1013.82" stroke="#000" stroke-width="2"/><line x1="298.75" y1="997.46" x2="298.75" y2="1000.96" stroke="#000" stroke-width="2"/><line x1="327.74" y1="987.33" x2="327.74" y2="993.33" stroke="#000" stroke-width="2"/><line x1="355.55" y1="977.61" x2="355.55" y2="981.11" stroke="#000" stroke-width="2"/><line x1="382.77" y1="968.09" x2="382.77" y2="974.09" stroke="#000" stroke-width="2"/><line x1="409.42" y1="958.77" x2="409.42" y2="962.27" stroke="#000" stroke-width="2"/><line x1="435.53" y1="949.65" x2="435.53" y2="955.65" stroke="#000" stroke-width="2"/><line x1="179.14" y1="1039.27" x2="179.14" y2="1042.77" stroke="#000" stroke-width="2"/><line x1="461.10" y1="940.71" x2="461.10" y2="944.21" stroke="#000" stroke-width="2"/><line x1="462.35" y1="929.91" x2="468.35" y2="929.91" stroke="#000" stroke-width="2"/><line x1="463.22" y1="910.60" x2="466.72" y2="910.60" stroke="#000" stroke-width="2"/><line x1="464.11" y1="891.05" x2="470.11" y2="891.05" stroke="#000" stroke-width="2"/><line x1="465.02" y1="871.04" x2="468.52" y2="871.04" stroke="#000" stroke-width="2"/><line x1="465.94" y1="850.77" x2="471.94" y2="850.77" stroke="#000" stroke-width="2"/><line x1="466.87" y1="830.16" x2="470.37" y2="830.16" stroke="#000" stroke-width="2"/><line x1="467.82" y1="809.29" x2="473.82" y2="809.29" stroke="#000" stroke-width="2"/><line x1="468.73" y1="789.29" x2="472.23" y2="789.29" stroke="#000" stroke-width="2"/><line x1="469.65" y1="769.03" x2="475.65" y2="769.03" stroke="#000" stroke-width="2"/><line x1="470.59" y1="748.44" x2="474.09" y2="748.44" stroke="#000" stroke-width="2"/><line x1="471.53" y1="727.59" x2="477.53" y2="727.59" stroke="#000" stroke-width="2"/><line x1="472.58" y1="704.56" x2="476.08" y2="704.56" stroke="#000" stroke-width="2"/><line x1="473.64" y1="681.20" x2="479.64" y2="681.20" stroke="#000" stroke-width="2"/><line x1="474.62" y1="659.48" x2="478.12" y2="659.48" stroke="#000" stroke-width="2"/><line x1="475.62" y1="637.49" x2="481.62" y2="637.49" stroke="#000" stroke-width="2"/><rect x="518.25" y="638.00" width="38.75" height="21.32" fill="#2e0000"/><rect x="518.25" y="659.02" width="38.75" height="21.32" fill="#550000"/><rect x="518.25" y="680.04" width="38.75" height="21.32" fill="#991100"/><rect x="518.25" y="701.06" width="38.75" height="21.32" fill="#e41a00"/><rect x="518.25" y="722.08" width="38.75" height="21.32" fill="#ff3d20"/><rect x="518.25" y="743.10" width="38.75" height="21.32" fill="#ff5c00"/><rect x="518.25" y="764.12" width="38.75" height="21.32" fill="#ff8c00"/><rect x="518.25" y="785.14" width="38.75" height="21.32" fill="#ffc400"/><rect x="518.25" y="806.16" width="38.75" height="21.32" fill="#ffff00"/><rect x="518.25" y="827.18" width="38.75" height="21.32" fill="#fffcd2"/><rect x="518.25" y="638" width="38.75" height="210.20000000000005" fill="none" stroke="#8a8a8a" stroke-width="1.2"/><line x1="557.00" y1="659.02" x2="563.00" y2="659.02" stroke="#333" stroke-width="1.5"/><text x="571" y="659.5" font-family="Liberation Serif" font-weight="bold" font-size="15" dominant-baseline="central" fill="#1a1a1a" textLength="38.5" lengthAdjust="spacingAndGlyphs">49.50</text><line x1="557.00" y1="680.04" x2="563.00" y2="680.04" stroke="#333" stroke-width="1.5"/><text x="571" y="680.5" font-family="Liberation Serif" font-weight="bold" font-size="15" dominant-baseline="central" fill="#1a1a1a" textLength="38.5" lengthAdjust="spacingAndGlyphs">45.41</text><line x1="557.00" y1="701.06" x2="563.00" y2="701.06" stroke="#333" stroke-width="1.5"/><text x="571" y="701.6" font-family="Liberation Serif" font-weight="bold" font-size="15" dominant-baseline="central" fill="#1a1a1a" textLength="38.5" lengthAdjust="spacingAndGlyphs">41.33</text><line x1="557.00" y1="722.08" x2="563.00" y2="722.08" stroke="#333" stroke-width="1.5"/><text x="571" y="722.6" font-family="Liberation Serif" font-weight="bold" font-size="15" dominant-baseline="central" fill="#1a1a1a" textLength="38.5" lengthAdjust="spacingAndGlyphs">37.24</text><line x1="557.00" y1="743.10" x2="563.00" y2="743.10" stroke="#333" stroke-width="1.5"/><text x="571" y="743.6" font-family="Liberation Serif" font-weight="bold" font-size="15" dominant-baseline="central" fill="#1a1a1a" textLength="38.5" lengthAdjust="spacingAndGlyphs">33.15</text><line x1="557.00" y1="764.12" x2="563.00" y2="764.12" stroke="#333" stroke-width="1.5"/><text x="571" y="764.6" font-family="Liberation Serif" font-weight="bold" font-size="15" dominant-baseline="central" fill="#1a1a1a" textLength="38.5" lengthAdjust="spacingAndGlyphs">29.06</text><line x1="557.00" y1="785.14" x2="563.00" y2="785.14" stroke="#333" stroke-width="1.5"/><text x="571" y="785.6" font-family="Liberation Serif" font-weight="bold" font-size="15" dominant-baseline="central" fill="#1a1a1a" textLength="38.5" lengthAdjust="spacingAndGlyphs">24.98</text><line x1="557.00" y1="806.16" x2="563.00" y2="806.16" stroke="#333" stroke-width="1.5"/><text x="571" y="806.7" font-family="Liberation Serif" font-weight="bold" font-size="15" dominant-baseline="central" fill="#1a1a1a" textLength="38.5" lengthAdjust="spacingAndGlyphs">20.89</text><line x1="557.00" y1="827.18" x2="563.00" y2="827.18" stroke="#333" stroke-width="1.5"/><text x="571" y="827.7" font-family="Liberation Serif" font-weight="bold" font-size="15" dominant-baseline="central" fill="#1a1a1a" textLength="38.5" lengthAdjust="spacingAndGlyphs">16.80</text><line x1="666.79" y1="898.04" x2="928.10" y2="828.66" stroke="#dadada" stroke-width="1.45"/><line x1="928.10" y1="828.66" x2="941.82" y2="548.65" stroke="#dadada" stroke-width="1.45"/><line x1="694.52" y1="924.08" x2="960.52" y2="850.07" stroke="#dadada" stroke-width="1.45"/><line x1="960.52" y1="850.07" x2="977.34" y2="563.13" stroke="#dadada" stroke-width="1.45"/><line x1="722.24" y1="950.10" x2="992.72" y2="871.34" stroke="#dadada" stroke-width="1.45"/><line x1="992.72" y1="871.34" x2="1012.77" y2="577.58" stroke="#dadada" stroke-width="1.45"/><line x1="752.57" y1="978.59" x2="1027.74" y2="894.47" stroke="#dadada" stroke-width="1.45"/><line x1="1027.74" y1="894.47" x2="1051.49" y2="593.37" stroke="#dadada" stroke-width="1.45"/><line x1="783.51" y1="1007.64" x2="1063.21" y2="917.89" stroke="#dadada" stroke-width="1.45"/><line x1="1063.21" y1="917.89" x2="1090.91" y2="609.44" stroke="#dadada" stroke-width="1.45"/><line x1="816.72" y1="1038.82" x2="1101.00" y2="942.85" stroke="#dadada" stroke-width="1.45"/><line x1="1101.00" y1="942.85" x2="1133.13" y2="626.66" stroke="#dadada" stroke-width="1.45"/><line x1="682.98" y1="879.85" x2="852.89" y2="1029.68" stroke="#dadada" stroke-width="1.45"/><line x1="682.98" y1="879.85" x2="676.62" y2="579.09" stroke="#dadada" stroke-width="1.45"/><line x1="737.65" y1="865.62" x2="913.55" y2="1009.12" stroke="#dadada" stroke-width="1.45"/><line x1="737.65" y1="865.62" x2="736.08" y2="570.41" stroke="#dadada" stroke-width="1.45"/><line x1="790.75" y1="851.80" x2="972.02" y2="989.32" stroke="#dadada" stroke-width="1.45"/><line x1="790.75" y1="851.80" x2="793.63" y2="562.01" stroke="#dadada" stroke-width="1.45"/><line x1="840.59" y1="838.83" x2="1026.36" y2="970.90" stroke="#dadada" stroke-width="1.45"/><line x1="840.59" y1="838.83" x2="847.46" y2="554.15" stroke="#dadada" stroke-width="1.45"/><line x1="889.34" y1="826.14" x2="1079.28" y2="952.97" stroke="#dadada" stroke-width="1.45"/><line x1="889.34" y1="826.14" x2="899.95" y2="546.49" stroke="#dadada" stroke-width="1.45"/><line x1="654.75" y1="873.93" x2="914.96" y2="807.51" stroke="#dadada" stroke-width="1.45"/><line x1="914.96" y1="807.51" x2="1105.16" y2="931.01" stroke="#dadada" stroke-width="1.45"/><line x1="653.77" y1="840.44" x2="916.34" y2="776.73" stroke="#dadada" stroke-width="1.45"/><line x1="916.34" y1="776.73" x2="1108.73" y2="896.19" stroke="#dadada" stroke-width="1.45"/><line x1="652.79" y1="806.87" x2="917.73" y2="745.94" stroke="#dadada" stroke-width="1.45"/><line x1="917.73" y1="745.94" x2="1112.31" y2="861.27" stroke="#dadada" stroke-width="1.45"/><line x1="651.74" y1="771.01" x2="919.21" y2="713.11" stroke="#dadada" stroke-width="1.45"/><line x1="919.21" y1="713.11" x2="1116.14" y2="823.92" stroke="#dadada" stroke-width="1.45"/><line x1="650.66" y1="734.11" x2="920.72" y2="679.41" stroke="#dadada" stroke-width="1.45"/><line x1="920.72" y1="679.41" x2="1120.08" y2="785.44" stroke="#dadada" stroke-width="1.45"/><line x1="649.64" y1="699.40" x2="922.15" y2="647.75" stroke="#dadada" stroke-width="1.45"/><line x1="922.15" y1="647.75" x2="1123.79" y2="749.19" stroke="#dadada" stroke-width="1.45"/><line x1="648.55" y1="662.10" x2="923.67" y2="613.82" stroke="#dadada" stroke-width="1.45"/><line x1="923.67" y1="613.82" x2="1127.79" y2="710.21" stroke="#dadada" stroke-width="1.45"/><line x1="647.41" y1="623.07" x2="925.27" y2="578.38" stroke="#dadada" stroke-width="1.45"/><line x1="925.27" y1="578.38" x2="1131.97" y2="669.36" stroke="#dadada" stroke-width="1.45"/><line x1="646.23" y1="583.03" x2="926.90" y2="542.11" stroke="#dadada" stroke-width="1.45"/><line x1="926.90" y1="542.11" x2="1136.27" y2="627.40" stroke="#dadada" stroke-width="1.45"/><line x1="646.10" y1="583.40" x2="927.20" y2="542.60" stroke="#8a8a8a" stroke-width="1.7"/><line x1="927.20" y1="542.60" x2="1136.00" y2="628.00" stroke="#8a8a8a" stroke-width="1.7"/><line x1="646.10" y1="583.40" x2="655.40" y2="887.30" stroke="#8a8a8a" stroke-width="1.7"/><line x1="927.20" y1="542.60" x2="914.00" y2="819.50" stroke="#8a8a8a" stroke-width="1.7"/><line x1="655.40" y1="887.30" x2="914.00" y2="819.50" stroke="#8a8a8a" stroke-width="1.7"/><line x1="914.00" y1="819.50" x2="1104.10" y2="944.70" stroke="#8a8a8a" stroke-width="1.7"/><ellipse cx="706.1" cy="910.2" rx="4.0" ry="1.9" transform="rotate(38 706.1 910.2)" fill="#ff0a0a"/><ellipse cx="719.3" cy="922.2" rx="4.0" ry="1.9" transform="rotate(38 719.3 922.2)" fill="#ff0a0a"/><ellipse cx="722.4" cy="925.1" rx="4.0" ry="1.9" transform="rotate(38 722.4 925.1)" fill="#ff0a0a"/><ellipse cx="734.7" cy="936.3" rx="4.0" ry="1.9" transform="rotate(38 734.7 936.3)" fill="#ff0a0a"/><ellipse cx="737.5" cy="938.8" rx="4.0" ry="1.9" transform="rotate(38 737.5 938.8)" fill="#ff0a0a"/><ellipse cx="738.4" cy="939.6" rx="4.0" ry="1.9" transform="rotate(38 738.4 939.6)" fill="#ff0a0a"/><ellipse cx="746.2" cy="946.8" rx="4.0" ry="1.9" transform="rotate(38 746.2 946.8)" fill="#ff0a0a"/><ellipse cx="752.3" cy="952.3" rx="4.0" ry="1.9" transform="rotate(38 752.3 952.3)" fill="#ff0a0a"/><ellipse cx="750.5" cy="950.7" rx="4.0" ry="1.9" transform="rotate(38 750.5 950.7)" fill="#ff0a0a"/><ellipse cx="756.6" cy="956.2" rx="4.0" ry="1.9" transform="rotate(38 756.6 956.2)" fill="#ff0a0a"/><ellipse cx="769.7" cy="968.2" rx="4.0" ry="1.9" transform="rotate(38 769.7 968.2)" fill="#ff0a0a"/><ellipse cx="770.7" cy="969.0" rx="4.0" ry="1.9" transform="rotate(38 770.7 969.0)" fill="#ff0a0a"/><ellipse cx="785.6" cy="982.6" rx="4.0" ry="1.9" transform="rotate(38 785.6 982.6)" fill="#ff0a0a"/><ellipse cx="786.9" cy="983.8" rx="4.0" ry="1.9" transform="rotate(38 786.9 983.8)" fill="#ff0a0a"/><ellipse cx="805.9" cy="1001.2" rx="4.0" ry="1.9" transform="rotate(38 805.9 1001.2)" fill="#ff0a0a"/><ellipse cx="693.4" cy="898.6" rx="4.0" ry="1.9" transform="rotate(38 693.4 898.6)" fill="#ff0a0a"/><ellipse cx="707.2" cy="911.2" rx="4.0" ry="1.9" transform="rotate(38 707.2 911.2)" fill="#ff0a0a"/><ellipse cx="721.2" cy="923.9" rx="4.0" ry="1.9" transform="rotate(38 721.2 923.9)" fill="#ff0a0a"/><ellipse cx="735.8" cy="937.3" rx="4.0" ry="1.9" transform="rotate(38 735.8 937.3)" fill="#ff0a0a"/><ellipse cx="750.8" cy="950.9" rx="4.0" ry="1.9" transform="rotate(38 750.8 950.9)" fill="#ff0a0a"/><ellipse cx="768.5" cy="967.1" rx="4.0" ry="1.9" transform="rotate(38 768.5 967.1)" fill="#ff0a0a"/><ellipse cx="785.8" cy="982.9" rx="4.0" ry="1.9" transform="rotate(38 785.8 982.9)" fill="#ff0a0a"/><ellipse cx="804.0" cy="999.4" rx="4.0" ry="1.9" transform="rotate(38 804.0 999.4)" fill="#ff0a0a"/><ellipse cx="823.9" cy="1017.6" rx="4.0" ry="1.9" transform="rotate(38 823.9 1017.6)" fill="#ff0a0a"/><ellipse cx="765.8" cy="895.3" rx="4.0" ry="1.9" transform="rotate(38 765.8 895.3)" fill="#ff0a0a"/><ellipse cx="778.4" cy="906.0" rx="4.0" ry="1.9" transform="rotate(38 778.4 906.0)" fill="#ff0a0a"/><ellipse cx="793.9" cy="919.0" rx="4.0" ry="1.9" transform="rotate(38 793.9 919.0)" fill="#ff0a0a"/><ellipse cx="781.3" cy="908.4" rx="4.0" ry="1.9" transform="rotate(38 781.3 908.4)" fill="#ff0a0a"/><ellipse cx="795.9" cy="920.7" rx="4.0" ry="1.9" transform="rotate(38 795.9 920.7)" fill="#ff0a0a"/><ellipse cx="797.1" cy="921.6" rx="4.0" ry="1.9" transform="rotate(38 797.1 921.6)" fill="#ff0a0a"/><ellipse cx="810.6" cy="933.0" rx="4.0" ry="1.9" transform="rotate(38 810.6 933.0)" fill="#ff0a0a"/><ellipse cx="811.8" cy="934.1" rx="4.0" ry="1.9" transform="rotate(38 811.8 934.1)" fill="#ff0a0a"/><ellipse cx="812.1" cy="934.3" rx="4.0" ry="1.9" transform="rotate(38 812.1 934.3)" fill="#ff0a0a"/><ellipse cx="823.9" cy="944.2" rx="4.0" ry="1.9" transform="rotate(38 823.9 944.2)" fill="#ff0a0a"/><ellipse cx="815.2" cy="936.9" rx="4.0" ry="1.9" transform="rotate(38 815.2 936.9)" fill="#ff0a0a"/><ellipse cx="826.1" cy="946.0" rx="4.0" ry="1.9" transform="rotate(38 826.1 946.0)" fill="#ff0a0a"/><ellipse cx="829.8" cy="949.1" rx="4.0" ry="1.9" transform="rotate(38 829.8 949.1)" fill="#ff0a0a"/><ellipse cx="849.2" cy="965.5" rx="4.0" ry="1.9" transform="rotate(38 849.2 965.5)" fill="#ff0a0a"/><ellipse cx="846.0" cy="962.7" rx="4.0" ry="1.9" transform="rotate(38 846.0 962.7)" fill="#ff0a0a"/><ellipse cx="750.6" cy="882.6" rx="4.0" ry="1.9" transform="rotate(38 750.6 882.6)" fill="#ff0a0a"/><ellipse cx="764.7" cy="894.5" rx="4.0" ry="1.9" transform="rotate(38 764.7 894.5)" fill="#ff0a0a"/><ellipse cx="780.1" cy="907.4" rx="4.0" ry="1.9" transform="rotate(38 780.1 907.4)" fill="#ff0a0a"/><ellipse cx="794.7" cy="919.6" rx="4.0" ry="1.9" transform="rotate(38 794.7 919.6)" fill="#ff0a0a"/><ellipse cx="812.6" cy="934.7" rx="4.0" ry="1.9" transform="rotate(38 812.6 934.7)" fill="#ff0a0a"/><ellipse cx="810.7" cy="933.1" rx="4.0" ry="1.9" transform="rotate(38 810.7 933.1)" fill="#ff0a0a"/><ellipse cx="829.5" cy="948.9" rx="4.0" ry="1.9" transform="rotate(38 829.5 948.9)" fill="#ff0a0a"/><ellipse cx="828.6" cy="948.2" rx="4.0" ry="1.9" transform="rotate(38 828.6 948.2)" fill="#ff0a0a"/><ellipse cx="847.0" cy="963.6" rx="4.0" ry="1.9" transform="rotate(38 847.0 963.6)" fill="#ff0a0a"/><ellipse cx="867.8" cy="981.1" rx="4.0" ry="1.9" transform="rotate(38 867.8 981.1)" fill="#ff0a0a"/><ellipse cx="866.1" cy="979.6" rx="4.0" ry="1.9" transform="rotate(38 866.1 979.6)" fill="#ff0a0a"/><ellipse cx="885.7" cy="996.1" rx="4.0" ry="1.9" transform="rotate(38 885.7 996.1)" fill="#ff0a0a"/><ellipse cx="821.0" cy="880.4" rx="4.0" ry="1.9" transform="rotate(38 821.0 880.4)" fill="#ff0a0a"/><ellipse cx="834.9" cy="891.3" rx="4.0" ry="1.9" transform="rotate(38 834.9 891.3)" fill="#ff0a0a"/><ellipse cx="836.4" cy="892.4" rx="4.0" ry="1.9" transform="rotate(38 836.4 892.4)" fill="#ff0a0a"/><ellipse cx="851.3" cy="904.1" rx="4.0" ry="1.9" transform="rotate(38 851.3 904.1)" fill="#ff0a0a"/><ellipse cx="852.7" cy="905.2" rx="4.0" ry="1.9" transform="rotate(38 852.7 905.2)" fill="#ff0a0a"/><ellipse cx="855.6" cy="907.4" rx="4.0" ry="1.9" transform="rotate(38 855.6 907.4)" fill="#ff0a0a"/><ellipse cx="866.9" cy="916.2" rx="4.0" ry="1.9" transform="rotate(38 866.9 916.2)" fill="#ff0a0a"/><ellipse cx="870.3" cy="918.9" rx="4.0" ry="1.9" transform="rotate(38 870.3 918.9)" fill="#ff0a0a"/><ellipse cx="871.7" cy="919.9" rx="4.0" ry="1.9" transform="rotate(38 871.7 919.9)" fill="#ff0a0a"/><ellipse cx="885.3" cy="930.5" rx="4.0" ry="1.9" transform="rotate(38 885.3 930.5)" fill="#ff0a0a"/><ellipse cx="888.3" cy="932.9" rx="4.0" ry="1.9" transform="rotate(38 888.3 932.9)" fill="#ff0a0a"/><ellipse cx="905.8" cy="946.6" rx="4.0" ry="1.9" transform="rotate(38 905.8 946.6)" fill="#ff0a0a"/><ellipse cx="805.6" cy="868.3" rx="4.0" ry="1.9" transform="rotate(38 805.6 868.3)" fill="#ff0a0a"/><ellipse cx="820.1" cy="879.7" rx="4.0" ry="1.9" transform="rotate(38 820.1 879.7)" fill="#ff0a0a"/><ellipse cx="835.1" cy="891.4" rx="4.0" ry="1.9" transform="rotate(38 835.1 891.4)" fill="#ff0a0a"/><ellipse cx="851.0" cy="903.8" rx="4.0" ry="1.9" transform="rotate(38 851.0 903.8)" fill="#ff0a0a"/><ellipse cx="868.9" cy="917.8" rx="4.0" ry="1.9" transform="rotate(38 868.9 917.8)" fill="#ff0a0a"/><ellipse cx="867.2" cy="916.5" rx="4.0" ry="1.9" transform="rotate(38 867.2 916.5)" fill="#ff0a0a"/><ellipse cx="887.9" cy="932.6" rx="4.0" ry="1.9" transform="rotate(38 887.9 932.6)" fill="#ff0a0a"/><ellipse cx="886.1" cy="931.2" rx="4.0" ry="1.9" transform="rotate(38 886.1 931.2)" fill="#ff0a0a"/><ellipse cx="907.0" cy="947.5" rx="4.0" ry="1.9" transform="rotate(38 907.0 947.5)" fill="#ff0a0a"/><ellipse cx="905.0" cy="945.9" rx="4.0" ry="1.9" transform="rotate(38 905.0 945.9)" fill="#ff0a0a"/><ellipse cx="926.6" cy="962.8" rx="4.0" ry="1.9" transform="rotate(38 926.6 962.8)" fill="#ff0a0a"/><ellipse cx="924.8" cy="961.3" rx="4.0" ry="1.9" transform="rotate(38 924.8 961.3)" fill="#ff0a0a"/><ellipse cx="944.8" cy="977.0" rx="4.0" ry="1.9" transform="rotate(38 944.8 977.0)" fill="#ff0a0a"/><ellipse cx="872.9" cy="865.6" rx="4.0" ry="1.9" transform="rotate(38 872.9 865.6)" fill="#ff0a0a"/><ellipse cx="888.1" cy="876.6" rx="4.0" ry="1.9" transform="rotate(38 888.1 876.6)" fill="#ff0a0a"/><ellipse cx="890.6" cy="878.5" rx="4.0" ry="1.9" transform="rotate(38 890.6 878.5)" fill="#ff0a0a"/><ellipse cx="904.2" cy="888.4" rx="4.0" ry="1.9" transform="rotate(38 904.2 888.4)" fill="#ff0a0a"/><ellipse cx="920.9" cy="900.5" rx="4.0" ry="1.9" transform="rotate(38 920.9 900.5)" fill="#ff0a0a"/><ellipse cx="903.2" cy="887.7" rx="4.0" ry="1.9" transform="rotate(38 903.2 887.7)" fill="#ff0a0a"/><ellipse cx="907.6" cy="890.8" rx="4.0" ry="1.9" transform="rotate(38 907.6 890.8)" fill="#ff0a0a"/><ellipse cx="918.7" cy="898.9" rx="4.0" ry="1.9" transform="rotate(38 918.7 898.9)" fill="#ff0a0a"/><ellipse cx="922.2" cy="901.5" rx="4.0" ry="1.9" transform="rotate(38 922.2 901.5)" fill="#ff0a0a"/><ellipse cx="927.6" cy="905.5" rx="4.0" ry="1.9" transform="rotate(38 927.6 905.5)" fill="#ff0a0a"/><ellipse cx="937.9" cy="913.0" rx="4.0" ry="1.9" transform="rotate(38 937.9 913.0)" fill="#ff0a0a"/><ellipse cx="945.2" cy="918.3" rx="4.0" ry="1.9" transform="rotate(38 945.2 918.3)" fill="#ff0a0a"/><ellipse cx="962.8" cy="931.1" rx="4.0" ry="1.9" transform="rotate(38 962.8 931.1)" fill="#ff0a0a"/><ellipse cx="858.5" cy="855.1" rx="4.0" ry="1.9" transform="rotate(38 858.5 855.1)" fill="#ff0a0a"/><ellipse cx="873.6" cy="866.1" rx="4.0" ry="1.9" transform="rotate(38 873.6 866.1)" fill="#ff0a0a"/><ellipse cx="889.2" cy="877.4" rx="4.0" ry="1.9" transform="rotate(38 889.2 877.4)" fill="#ff0a0a"/><ellipse cx="905.0" cy="889.0" rx="4.0" ry="1.9" transform="rotate(38 905.0 889.0)" fill="#ff0a0a"/><ellipse cx="922.0" cy="901.3" rx="4.0" ry="1.9" transform="rotate(38 922.0 901.3)" fill="#ff0a0a"/><ellipse cx="941.9" cy="915.9" rx="4.0" ry="1.9" transform="rotate(38 941.9 915.9)" fill="#ff0a0a"/><ellipse cx="941.1" cy="915.3" rx="4.0" ry="1.9" transform="rotate(38 941.1 915.3)" fill="#ff0a0a"/><ellipse cx="961.0" cy="929.8" rx="4.0" ry="1.9" transform="rotate(38 961.0 929.8)" fill="#ff0a0a"/><ellipse cx="959.8" cy="928.9" rx="4.0" ry="1.9" transform="rotate(38 959.8 928.9)" fill="#ff0a0a"/><ellipse cx="982.7" cy="945.6" rx="4.0" ry="1.9" transform="rotate(38 982.7 945.6)" fill="#ff0a0a"/><ellipse cx="980.6" cy="944.1" rx="4.0" ry="1.9" transform="rotate(38 980.6 944.1)" fill="#ff0a0a"/><ellipse cx="1001.3" cy="959.2" rx="4.0" ry="1.9" transform="rotate(38 1001.3 959.2)" fill="#ff0a0a"/><ellipse cx="924.9" cy="853.0" rx="4.0" ry="1.9" transform="rotate(38 924.9 853.0)" fill="#ff0a0a"/><ellipse cx="940.9" cy="863.9" rx="4.0" ry="1.9" transform="rotate(38 940.9 863.9)" fill="#ff0a0a"/><ellipse cx="942.5" cy="865.0" rx="4.0" ry="1.9" transform="rotate(38 942.5 865.0)" fill="#ff0a0a"/><ellipse cx="956.0" cy="874.2" rx="4.0" ry="1.9" transform="rotate(38 956.0 874.2)" fill="#ff0a0a"/><ellipse cx="956.0" cy="874.2" rx="4.0" ry="1.9" transform="rotate(38 956.0 874.2)" fill="#ff0a0a"/><ellipse cx="973.8" cy="886.4" rx="4.0" ry="1.9" transform="rotate(38 973.8 886.4)" fill="#ff0a0a"/><ellipse cx="956.8" cy="874.8" rx="4.0" ry="1.9" transform="rotate(38 956.8 874.8)" fill="#ff0a0a"/><ellipse cx="971.1" cy="884.5" rx="4.0" ry="1.9" transform="rotate(38 971.1 884.5)" fill="#ff0a0a"/><ellipse cx="975.2" cy="887.4" rx="4.0" ry="1.9" transform="rotate(38 975.2 887.4)" fill="#ff0a0a"/><ellipse cx="979.4" cy="890.2" rx="4.0" ry="1.9" transform="rotate(38 979.4 890.2)" fill="#ff0a0a"/><ellipse cx="993.3" cy="899.7" rx="4.0" ry="1.9" transform="rotate(38 993.3 899.7)" fill="#ff0a0a"/><ellipse cx="997.6" cy="902.7" rx="4.0" ry="1.9" transform="rotate(38 997.6 902.7)" fill="#ff0a0a"/><ellipse cx="1013.3" cy="913.4" rx="4.0" ry="1.9" transform="rotate(38 1013.3 913.4)" fill="#ff0a0a"/><ellipse cx="909.1" cy="842.1" rx="4.0" ry="1.9" transform="rotate(38 909.1 842.1)" fill="#ff0a0a"/><ellipse cx="924.4" cy="852.6" rx="4.0" ry="1.9" transform="rotate(38 924.4 852.6)" fill="#ff0a0a"/><ellipse cx="940.5" cy="863.6" rx="4.0" ry="1.9" transform="rotate(38 940.5 863.6)" fill="#ff0a0a"/><ellipse cx="956.2" cy="874.4" rx="4.0" ry="1.9" transform="rotate(38 956.2 874.4)" fill="#ff0a0a"/><ellipse cx="973.4" cy="886.1" rx="4.0" ry="1.9" transform="rotate(38 973.4 886.1)" fill="#ff0a0a"/><ellipse cx="995.6" cy="901.3" rx="4.0" ry="1.9" transform="rotate(38 995.6 901.3)" fill="#ff0a0a"/><ellipse cx="992.6" cy="899.3" rx="4.0" ry="1.9" transform="rotate(38 992.6 899.3)" fill="#ff0a0a"/><ellipse cx="1015.2" cy="914.7" rx="4.0" ry="1.9" transform="rotate(38 1015.2 914.7)" fill="#ff0a0a"/><ellipse cx="1012.6" cy="912.9" rx="4.0" ry="1.9" transform="rotate(38 1012.6 912.9)" fill="#ff0a0a"/><ellipse cx="1035.3" cy="928.5" rx="4.0" ry="1.9" transform="rotate(38 1035.3 928.5)" fill="#ff0a0a"/><ellipse cx="1033.6" cy="927.3" rx="4.0" ry="1.9" transform="rotate(38 1033.6 927.3)" fill="#ff0a0a"/><ellipse cx="1055.1" cy="942.0" rx="4.0" ry="1.9" transform="rotate(38 1055.1 942.0)" fill="#ff0a0a"/><ellipse cx="955.2" cy="728.6" rx="1.6" ry="2.4" fill="#0a14ff"/><ellipse cx="970.5" cy="745.0" rx="1.6" ry="2.4" fill="#0a14ff"/><ellipse cx="973.0" cy="767.8" rx="1.6" ry="2.4" fill="#0a14ff"/><ellipse cx="988.4" cy="762.0" rx="1.6" ry="2.4" fill="#0a14ff"/><ellipse cx="990.4" cy="784.1" rx="1.6" ry="2.4" fill="#0a14ff"/><ellipse cx="989.9" cy="806.0" rx="1.6" ry="2.4" fill="#0a14ff"/><ellipse cx="999.8" cy="801.7" rx="1.6" ry="2.4" fill="#0a14ff"/><ellipse cx="1008.7" cy="781.2" rx="1.6" ry="2.4" fill="#0a14ff"/><ellipse cx="1003.5" cy="823.4" rx="1.6" ry="2.4" fill="#0a14ff"/><ellipse cx="1009.4" cy="843.8" rx="1.6" ry="2.4" fill="#0a14ff"/><ellipse cx="1027.0" cy="820.4" rx="1.6" ry="2.4" fill="#0a14ff"/><ellipse cx="1024.9" cy="862.2" rx="1.6" ry="2.4" fill="#0a14ff"/><ellipse cx="1041.4" cy="881.1" rx="1.6" ry="2.4" fill="#0a14ff"/><ellipse cx="1044.6" cy="860.8" rx="1.6" ry="2.4" fill="#0a14ff"/><ellipse cx="1064.0" cy="901.7" rx="1.6" ry="2.4" fill="#0a14ff"/><ellipse cx="941.5" cy="692.3" rx="1.6" ry="2.4" fill="#0a14ff"/><ellipse cx="957.8" cy="707.4" rx="1.6" ry="2.4" fill="#0a14ff"/><ellipse cx="974.1" cy="723.3" rx="1.6" ry="2.4" fill="#0a14ff"/><ellipse cx="991.2" cy="740.6" rx="1.6" ry="2.4" fill="#0a14ff"/><ellipse cx="1008.6" cy="756.5" rx="1.6" ry="2.4" fill="#0a14ff"/><ellipse cx="1027.4" cy="796.5" rx="1.6" ry="2.4" fill="#0a14ff"/><ellipse cx="1045.4" cy="836.3" rx="1.6" ry="2.4" fill="#0a14ff"/><ellipse cx="1063.9" cy="877.3" rx="1.6" ry="2.4" fill="#0a14ff"/><ellipse cx="1084.3" cy="916.1" rx="1.6" ry="2.4" fill="#0a14ff"/><ellipse cx="958.6" cy="696.1" rx="1.6" ry="2.4" fill="#0a14ff"/><ellipse cx="972.9" cy="710.4" rx="1.6" ry="2.4" fill="#0a14ff"/><ellipse cx="990.3" cy="727.5" rx="1.6" ry="2.4" fill="#0a14ff"/><ellipse cx="975.1" cy="732.5" rx="1.6" ry="2.4" fill="#0a14ff"/><ellipse cx="991.3" cy="749.9" rx="1.6" ry="2.4" fill="#0a14ff"/><ellipse cx="991.2" cy="771.9" rx="1.6" ry="2.4" fill="#0a14ff"/><ellipse cx="1007.5" cy="767.6" rx="1.6" ry="2.4" fill="#0a14ff"/><ellipse cx="1007.4" cy="789.6" rx="1.6" ry="2.4" fill="#0a14ff"/><ellipse cx="1006.6" cy="805.5" rx="1.6" ry="2.4" fill="#0a14ff"/><ellipse cx="1020.5" cy="804.8" rx="1.6" ry="2.4" fill="#0a14ff"/><ellipse cx="1009.8" cy="810.6" rx="1.6" ry="2.4" fill="#0a14ff"/><ellipse cx="1022.7" cy="809.5" rx="1.6" ry="2.4" fill="#0a14ff"/><ellipse cx="1025.5" cy="829.9" rx="1.6" ry="2.4" fill="#0a14ff"/><ellipse cx="1048.5" cy="828.2" rx="1.6" ry="2.4" fill="#0a14ff"/><ellipse cx="1042.9" cy="849.4" rx="1.6" ry="2.4" fill="#0a14ff"/><ellipse cx="942.5" cy="658.8" rx="1.6" ry="2.4" fill="#0a14ff"/><ellipse cx="958.7" cy="673.8" rx="1.6" ry="2.4" fill="#0a14ff"/><ellipse cx="976.2" cy="689.6" rx="1.6" ry="2.4" fill="#0a14ff"/><ellipse cx="992.7" cy="705.2" rx="1.6" ry="2.4" fill="#0a14ff"/><ellipse cx="1011.2" cy="748.5" rx="1.6" ry="2.4" fill="#0a14ff"/><ellipse cx="1010.9" cy="721.2" rx="1.6" ry="2.4" fill="#0a14ff"/><ellipse cx="1028.4" cy="787.7" rx="1.6" ry="2.4" fill="#0a14ff"/><ellipse cx="1029.5" cy="760.6" rx="1.6" ry="2.4" fill="#0a14ff"/><ellipse cx="1048.1" cy="800.8" rx="1.6" ry="2.4" fill="#0a14ff"/><ellipse cx="1066.8" cy="868.2" rx="1.6" ry="2.4" fill="#0a14ff"/><ellipse cx="1067.1" cy="842.6" rx="1.6" ry="2.4" fill="#0a14ff"/><ellipse cx="1086.3" cy="884.4" rx="1.6" ry="2.4" fill="#0a14ff"/><ellipse cx="960.8" cy="661.8" rx="1.6" ry="2.4" fill="#0a14ff"/><ellipse cx="976.2" cy="676.7" rx="1.6" ry="2.4" fill="#0a14ff"/><ellipse cx="976.6" cy="698.2" rx="1.6" ry="2.4" fill="#0a14ff"/><ellipse cx="994.6" cy="688.9" rx="1.6" ry="2.4" fill="#0a14ff"/><ellipse cx="994.4" cy="716.0" rx="1.6" ry="2.4" fill="#0a14ff"/><ellipse cx="996.3" cy="737.0" rx="1.6" ry="2.4" fill="#0a14ff"/><ellipse cx="1009.7" cy="733.5" rx="1.6" ry="2.4" fill="#0a14ff"/><ellipse cx="1012.1" cy="754.1" rx="1.6" ry="2.4" fill="#0a14ff"/><ellipse cx="1012.2" cy="776.0" rx="1.6" ry="2.4" fill="#0a14ff"/><ellipse cx="1027.9" cy="773.9" rx="1.6" ry="2.4" fill="#0a14ff"/><ellipse cx="1029.7" cy="796.4" rx="1.6" ry="2.4" fill="#0a14ff"/><ellipse cx="1048.5" cy="812.7" rx="1.6" ry="2.4" fill="#0a14ff"/><ellipse cx="944.8" cy="623.8" rx="1.6" ry="2.4" fill="#0a14ff"/><ellipse cx="961.1" cy="639.0" rx="1.6" ry="2.4" fill="#0a14ff"/><ellipse cx="977.7" cy="654.4" rx="1.6" ry="2.4" fill="#0a14ff"/><ellipse cx="995.5" cy="668.9" rx="1.6" ry="2.4" fill="#0a14ff"/><ellipse cx="1013.6" cy="710.9" rx="1.6" ry="2.4" fill="#0a14ff"/><ellipse cx="1013.5" cy="684.6" rx="1.6" ry="2.4" fill="#0a14ff"/><ellipse cx="1032.9" cy="748.5" rx="1.6" ry="2.4" fill="#0a14ff"/><ellipse cx="1032.7" cy="724.7" rx="1.6" ry="2.4" fill="#0a14ff"/><ellipse cx="1051.7" cy="790.1" rx="1.6" ry="2.4" fill="#0a14ff"/><ellipse cx="1051.5" cy="765.5" rx="1.6" ry="2.4" fill="#0a14ff"/><ellipse cx="1070.7" cy="831.7" rx="1.6" ry="2.4" fill="#0a14ff"/><ellipse cx="1070.8" cy="806.4" rx="1.6" ry="2.4" fill="#0a14ff"/><ellipse cx="1090.0" cy="848.6" rx="1.6" ry="2.4" fill="#0a14ff"/><ellipse cx="962.3" cy="624.4" rx="1.6" ry="2.4" fill="#0a14ff"/><ellipse cx="978.7" cy="639.7" rx="1.6" ry="2.4" fill="#0a14ff"/><ellipse cx="980.3" cy="662.6" rx="1.6" ry="2.4" fill="#0a14ff"/><ellipse cx="996.3" cy="655.0" rx="1.6" ry="2.4" fill="#0a14ff"/><ellipse cx="1014.3" cy="672.0" rx="1.6" ry="2.4" fill="#0a14ff"/><ellipse cx="993.5" cy="680.5" rx="1.6" ry="2.4" fill="#0a14ff"/><ellipse cx="997.1" cy="701.5" rx="1.6" ry="2.4" fill="#0a14ff"/><ellipse cx="1010.0" cy="696.7" rx="1.6" ry="2.4" fill="#0a14ff"/><ellipse cx="1012.5" cy="718.6" rx="1.6" ry="2.4" fill="#0a14ff"/><ellipse cx="1017.0" cy="740.5" rx="1.6" ry="2.4" fill="#0a14ff"/><ellipse cx="1029.1" cy="735.7" rx="1.6" ry="2.4" fill="#0a14ff"/><ellipse cx="1035.5" cy="759.2" rx="1.6" ry="2.4" fill="#0a14ff"/><ellipse cx="1054.0" cy="776.4" rx="1.6" ry="2.4" fill="#0a14ff"/><ellipse cx="947.7" cy="588.5" rx="1.6" ry="2.4" fill="#0a14ff"/><ellipse cx="964.4" cy="602.6" rx="1.6" ry="2.4" fill="#0a14ff"/><ellipse cx="981.4" cy="617.7" rx="1.6" ry="2.4" fill="#0a14ff"/><ellipse cx="998.7" cy="632.6" rx="1.6" ry="2.4" fill="#0a14ff"/><ellipse cx="1017.2" cy="648.1" rx="1.6" ry="2.4" fill="#0a14ff"/><ellipse cx="1035.5" cy="711.9" rx="1.6" ry="2.4" fill="#0a14ff"/><ellipse cx="1036.3" cy="687.8" rx="1.6" ry="2.4" fill="#0a14ff"/><ellipse cx="1054.0" cy="751.7" rx="1.6" ry="2.4" fill="#0a14ff"/><ellipse cx="1054.6" cy="727.9" rx="1.6" ry="2.4" fill="#0a14ff"/><ellipse cx="1074.9" cy="794.5" rx="1.6" ry="2.4" fill="#0a14ff"/><ellipse cx="1074.8" cy="770.1" rx="1.6" ry="2.4" fill="#0a14ff"/><ellipse cx="1094.4" cy="812.5" rx="1.6" ry="2.4" fill="#0a14ff"/><ellipse cx="966.2" cy="589.0" rx="1.6" ry="2.4" fill="#0a14ff"/><ellipse cx="983.4" cy="603.4" rx="1.6" ry="2.4" fill="#0a14ff"/><ellipse cx="983.8" cy="626.2" rx="1.6" ry="2.4" fill="#0a14ff"/><ellipse cx="999.6" cy="618.2" rx="1.6" ry="2.4" fill="#0a14ff"/><ellipse cx="998.1" cy="639.8" rx="1.6" ry="2.4" fill="#0a14ff"/><ellipse cx="1018.7" cy="634.0" rx="1.6" ry="2.4" fill="#0a14ff"/><ellipse cx="997.6" cy="661.9" rx="1.6" ry="2.4" fill="#0a14ff"/><ellipse cx="1013.8" cy="659.1" rx="1.6" ry="2.4" fill="#0a14ff"/><ellipse cx="1016.6" cy="685.1" rx="1.6" ry="2.4" fill="#0a14ff"/><ellipse cx="1019.8" cy="704.2" rx="1.6" ry="2.4" fill="#0a14ff"/><ellipse cx="1035.6" cy="701.8" rx="1.6" ry="2.4" fill="#0a14ff"/><ellipse cx="1038.9" cy="721.9" rx="1.6" ry="2.4" fill="#0a14ff"/><ellipse cx="1055.0" cy="739.3" rx="1.6" ry="2.4" fill="#0a14ff"/><ellipse cx="950.3" cy="551.9" rx="1.6" ry="2.4" fill="#0a14ff"/><ellipse cx="966.9" cy="566.3" rx="1.6" ry="2.4" fill="#0a14ff"/><ellipse cx="984.3" cy="581.6" rx="1.6" ry="2.4" fill="#0a14ff"/><ellipse cx="1001.2" cy="596.5" rx="1.6" ry="2.4" fill="#0a14ff"/><ellipse cx="1019.8" cy="610.7" rx="1.6" ry="2.4" fill="#0a14ff"/><ellipse cx="1040.1" cy="677.7" rx="1.6" ry="2.4" fill="#0a14ff"/><ellipse cx="1038.9" cy="649.5" rx="1.6" ry="2.4" fill="#0a14ff"/><ellipse cx="1059.0" cy="716.6" rx="1.6" ry="2.4" fill="#0a14ff"/><ellipse cx="1058.2" cy="691.1" rx="1.6" ry="2.4" fill="#0a14ff"/><ellipse cx="1078.0" cy="757.9" rx="1.6" ry="2.4" fill="#0a14ff"/><ellipse cx="1078.3" cy="733.3" rx="1.6" ry="2.4" fill="#0a14ff"/><ellipse cx="1098.7" cy="774.8" rx="1.6" ry="2.4" fill="#0a14ff"/><circle cx="671.7" cy="730.2" r="3.05" fill="#14f014"/><circle cx="671.9" cy="737.2" r="3.05" fill="#14f014"/><circle cx="672.0" cy="744.1" r="3.05" fill="#14f014"/><circle cx="672.2" cy="751.1" r="3.05" fill="#14f014"/><circle cx="672.3" cy="758.0" r="3.05" fill="#14f014"/><circle cx="672.5" cy="765.0" r="3.05" fill="#14f014"/><circle cx="672.7" cy="771.9" r="3.05" fill="#14f014"/><circle cx="672.8" cy="778.9" r="3.05" fill="#14f014"/><circle cx="673.0" cy="785.8" r="3.05" fill="#14f014"/><circle cx="673.1" cy="792.8" r="3.05" fill="#14f014"/><circle cx="673.3" cy="799.7" r="3.05" fill="#14f014"/><circle cx="673.5" cy="806.7" r="3.05" fill="#14f014"/><circle cx="673.6" cy="813.6" r="3.05" fill="#14f014"/><circle cx="673.8" cy="820.6" r="3.05" fill="#14f014"/><circle cx="673.9" cy="827.5" r="3.05" fill="#14f014"/><circle cx="674.1" cy="834.5" r="3.05" fill="#14f014"/><circle cx="674.2" cy="841.4" r="3.05" fill="#14f014"/><circle cx="674.4" cy="848.4" r="3.05" fill="#14f014"/><circle cx="674.6" cy="855.3" r="3.05" fill="#14f014"/><circle cx="674.7" cy="862.3" r="3.05" fill="#14f014"/><circle cx="674.9" cy="869.2" r="3.05" fill="#14f014"/><circle cx="730.7" cy="683.3" r="3.05" fill="#14f014"/><circle cx="730.7" cy="690.4" r="3.05" fill="#14f014"/><circle cx="730.8" cy="697.5" r="3.05" fill="#14f014"/><circle cx="730.8" cy="704.6" r="3.05" fill="#14f014"/><circle cx="730.9" cy="711.7" r="3.05" fill="#14f014"/><circle cx="730.9" cy="718.7" r="3.05" fill="#14f014"/><circle cx="731.0" cy="725.8" r="3.05" fill="#14f014"/><circle cx="731.0" cy="732.9" r="3.05" fill="#14f014"/><circle cx="731.1" cy="740.0" r="3.05" fill="#14f014"/><circle cx="731.1" cy="747.1" r="3.05" fill="#14f014"/><circle cx="731.2" cy="754.2" r="3.05" fill="#14f014"/><circle cx="731.2" cy="761.3" r="3.05" fill="#14f014"/><circle cx="731.3" cy="768.4" r="3.05" fill="#14f014"/><circle cx="731.3" cy="775.5" r="3.05" fill="#14f014"/><circle cx="731.4" cy="782.6" r="3.05" fill="#14f014"/><circle cx="731.4" cy="789.6" r="3.05" fill="#14f014"/><circle cx="731.5" cy="796.7" r="3.05" fill="#14f014"/><circle cx="731.5" cy="803.8" r="3.05" fill="#14f014"/><circle cx="731.6" cy="810.9" r="3.05" fill="#14f014"/><circle cx="731.6" cy="818.0" r="3.05" fill="#14f014"/><circle cx="731.7" cy="825.1" r="3.05" fill="#14f014"/><circle cx="787.7" cy="636.5" r="3.05" fill="#14f014"/><circle cx="787.6" cy="643.6" r="3.05" fill="#14f014"/><circle cx="787.6" cy="650.7" r="3.05" fill="#14f014"/><circle cx="787.5" cy="657.8" r="3.05" fill="#14f014"/><circle cx="787.5" cy="664.9" r="3.05" fill="#14f014"/><circle cx="787.4" cy="671.9" r="3.05" fill="#14f014"/><circle cx="787.3" cy="679.0" r="3.05" fill="#14f014"/><circle cx="787.3" cy="686.1" r="3.05" fill="#14f014"/><circle cx="787.2" cy="693.2" r="3.05" fill="#14f014"/><circle cx="787.2" cy="700.3" r="3.05" fill="#14f014"/><circle cx="787.1" cy="707.4" r="3.05" fill="#14f014"/><circle cx="787.0" cy="714.5" r="3.05" fill="#14f014"/><circle cx="787.0" cy="721.6" r="3.05" fill="#14f014"/><circle cx="786.9" cy="728.7" r="3.05" fill="#14f014"/><circle cx="786.9" cy="735.7" r="3.05" fill="#14f014"/><circle cx="786.8" cy="742.8" r="3.05" fill="#14f014"/><circle cx="786.7" cy="749.9" r="3.05" fill="#14f014"/><circle cx="786.7" cy="757.0" r="3.05" fill="#14f014"/><circle cx="786.6" cy="764.1" r="3.05" fill="#14f014"/><circle cx="786.6" cy="771.2" r="3.05" fill="#14f014"/><circle cx="786.5" cy="778.3" r="3.05" fill="#14f014"/><circle cx="843.3" cy="590.5" r="3.05" fill="#14f014"/><circle cx="843.1" cy="597.6" r="3.05" fill="#14f014"/><circle cx="843.0" cy="604.7" r="3.05" fill="#14f014"/><circle cx="842.8" cy="611.8" r="3.05" fill="#14f014"/><circle cx="842.7" cy="619.0" r="3.05" fill="#14f014"/><circle cx="842.5" cy="626.1" r="3.05" fill="#14f014"/><circle cx="842.3" cy="633.2" r="3.05" fill="#14f014"/><circle cx="842.2" cy="640.3" r="3.05" fill="#14f014"/><circle cx="842.0" cy="647.4" r="3.05" fill="#14f014"/><circle cx="841.8" cy="654.5" r="3.05" fill="#14f014"/><circle cx="841.7" cy="661.6" r="3.05" fill="#14f014"/><circle cx="841.5" cy="668.8" r="3.05" fill="#14f014"/><circle cx="841.4" cy="675.9" r="3.05" fill="#14f014"/><circle cx="841.2" cy="683.0" r="3.05" fill="#14f014"/><circle cx="841.0" cy="690.1" r="3.05" fill="#14f014"/><circle cx="840.9" cy="697.2" r="3.05" fill="#14f014"/><circle cx="840.7" cy="704.3" r="3.05" fill="#14f014"/><circle cx="840.6" cy="711.5" r="3.05" fill="#14f014"/><circle cx="840.4" cy="718.6" r="3.05" fill="#14f014"/><circle cx="840.2" cy="725.7" r="3.05" fill="#14f014"/><circle cx="840.1" cy="732.8" r="3.05" fill="#14f014"/><circle cx="897.1" cy="545.8" r="3.05" fill="#14f014"/><circle cx="896.8" cy="552.9" r="3.05" fill="#14f014"/><circle cx="896.6" cy="560.0" r="3.05" fill="#14f014"/><circle cx="896.3" cy="567.1" r="3.05" fill="#14f014"/><circle cx="896.1" cy="574.2" r="3.05" fill="#14f014"/><circle cx="895.8" cy="581.3" r="3.05" fill="#14f014"/><circle cx="895.5" cy="588.4" r="3.05" fill="#14f014"/><circle cx="895.3" cy="595.5" r="3.05" fill="#14f014"/><circle cx="895.0" cy="602.6" r="3.05" fill="#14f014"/><circle cx="894.8" cy="609.7" r="3.05" fill="#14f014"/><circle cx="894.5" cy="616.8" r="3.05" fill="#14f014"/><circle cx="894.3" cy="623.9" r="3.05" fill="#14f014"/><circle cx="894.0" cy="630.9" r="3.05" fill="#14f014"/><circle cx="893.7" cy="638.0" r="3.05" fill="#14f014"/><circle cx="893.5" cy="645.1" r="3.05" fill="#14f014"/><circle cx="893.2" cy="652.2" r="3.05" fill="#14f014"/><circle cx="893.0" cy="659.3" r="3.05" fill="#14f014"/><circle cx="892.7" cy="666.4" r="3.05" fill="#14f014"/><circle cx="892.4" cy="673.5" r="3.05" fill="#14f014"/><circle cx="892.2" cy="680.6" r="3.05" fill="#14f014"/><circle cx="891.9" cy="687.7" r="3.05" fill="#14f014"/><circle cx="937.5" cy="593.5" r="10.4" fill="url(#g3)"/><circle cx="937.5" cy="593.5" r="10.4" fill="url(#h3)"/><circle cx="954.5" cy="608.1" r="10.9" fill="url(#g3)"/><circle cx="954.5" cy="608.1" r="10.9" fill="url(#h3)"/><circle cx="955.0" cy="631.2" r="10.9" fill="url(#g4)"/><circle cx="955.0" cy="631.2" r="10.9" fill="url(#h4)"/><circle cx="970.5" cy="623.2" r="13.2" fill="url(#g6)"/><circle cx="970.5" cy="623.2" r="13.2" fill="url(#h6)"/><circle cx="969.2" cy="645.0" r="9.5" fill="url(#g4)"/><circle cx="969.2" cy="645.0" r="9.5" fill="url(#h4)"/><circle cx="989.4" cy="639.3" r="14.0" fill="url(#g6)"/><circle cx="989.4" cy="639.3" r="14.0" fill="url(#h6)"/><circle cx="968.8" cy="667.4" r="9.0" fill="url(#g4)"/><circle cx="968.8" cy="667.4" r="9.0" fill="url(#h4)"/><circle cx="984.8" cy="664.6" r="13.0" fill="url(#g7)"/><circle cx="984.8" cy="664.6" r="13.0" fill="url(#h7)"/><circle cx="987.7" cy="691.0" r="9.4" fill="url(#g4)"/><circle cx="987.7" cy="691.0" r="9.4" fill="url(#h4)"/><circle cx="991.0" cy="710.3" r="6.8" fill="url(#g0)"/><circle cx="991.0" cy="710.3" r="6.8" fill="url(#h0)"/><circle cx="1006.5" cy="708.0" r="11.3" fill="url(#g5)"/><circle cx="1006.5" cy="708.0" r="11.3" fill="url(#h5)"/><circle cx="1009.9" cy="728.3" r="6.6" fill="url(#g0)"/><circle cx="1009.9" cy="728.3" r="6.6" fill="url(#h0)"/><circle cx="1025.9" cy="746.1" r="11.0" fill="url(#g3)"/><circle cx="1025.9" cy="746.1" r="11.0" fill="url(#h3)"/><circle cx="921.6" cy="555.9" r="8.8" fill="url(#g2)"/><circle cx="921.6" cy="555.9" r="8.8" fill="url(#h2)"/><circle cx="938.0" cy="570.5" r="9.7" fill="url(#g2)"/><circle cx="938.0" cy="570.5" r="9.7" fill="url(#h2)"/><circle cx="955.2" cy="586.1" r="10.6" fill="url(#g3)"/><circle cx="955.2" cy="586.1" r="10.6" fill="url(#h3)"/><circle cx="972.0" cy="601.2" r="11.6" fill="url(#g3)"/><circle cx="972.0" cy="601.2" r="11.6" fill="url(#h3)"/><circle cx="990.4" cy="615.7" r="14.2" fill="url(#g4)"/><circle cx="990.4" cy="615.7" r="14.2" fill="url(#h4)"/><circle cx="1010.8" cy="683.6" r="18.0" fill="url(#g9)"/><circle cx="1010.8" cy="683.6" r="18.0" fill="url(#h9)"/><circle cx="1009.4" cy="655.1" r="16.5" fill="url(#g6)"/><circle cx="1009.4" cy="655.1" r="16.5" fill="url(#h6)"/><circle cx="1029.7" cy="723.1" r="13.7" fill="url(#g4)"/><circle cx="1029.7" cy="723.1" r="13.7" fill="url(#h4)"/><circle cx="1028.7" cy="697.3" r="18.0" fill="url(#g6)"/><circle cx="1028.7" cy="697.3" r="18.0" fill="url(#h6)"/><circle cx="1048.7" cy="765.0" r="14.0" fill="url(#g4)"/><circle cx="1048.7" cy="765.0" r="14.0" fill="url(#h4)"/><circle cx="1048.8" cy="740.1" r="16.2" fill="url(#g5)"/><circle cx="1048.8" cy="740.1" r="16.2" fill="url(#h5)"/><circle cx="1069.2" cy="782.3" r="14.0" fill="url(#g4)"/><circle cx="1069.2" cy="782.3" r="14.0" fill="url(#h4)"/><circle cx="880.5" cy="639.0" r="11.3" fill="url(#g4)"/><circle cx="880.5" cy="639.0" r="11.3" fill="url(#h4)"/><circle cx="896.5" cy="655.0" r="13.2" fill="url(#g5)"/><circle cx="896.5" cy="655.0" r="13.2" fill="url(#h5)"/><circle cx="898.4" cy="678.7" r="9.4" fill="url(#g3)"/><circle cx="898.4" cy="678.7" r="9.4" fill="url(#h3)"/><circle cx="913.5" cy="671.1" r="13.2" fill="url(#g5)"/><circle cx="913.5" cy="671.1" r="13.2" fill="url(#h5)"/><circle cx="931.0" cy="689.0" r="15.0" fill="url(#g7)"/><circle cx="931.0" cy="689.0" r="15.0" fill="url(#h7)"/><circle cx="911.3" cy="697.4" r="8.5" fill="url(#g4)"/><circle cx="911.3" cy="697.4" r="8.5" fill="url(#h4)"/><circle cx="915.1" cy="719.1" r="9.0" fill="url(#g3)"/><circle cx="915.1" cy="719.1" r="9.0" fill="url(#h3)"/><circle cx="927.4" cy="714.4" r="12.3" fill="url(#g5)"/><circle cx="927.4" cy="714.4" r="12.3" fill="url(#h5)"/><circle cx="930.2" cy="737.0" r="8.5" fill="url(#g3)"/><circle cx="930.2" cy="737.0" r="8.5" fill="url(#h3)"/><circle cx="934.9" cy="759.7" r="6.1" fill="url(#g0)"/><circle cx="934.9" cy="759.7" r="6.1" fill="url(#h0)"/><circle cx="946.3" cy="755.0" r="11.3" fill="url(#g5)"/><circle cx="946.3" cy="755.0" r="11.3" fill="url(#h5)"/><circle cx="952.9" cy="779.4" r="7.6" fill="url(#g0)"/><circle cx="952.9" cy="779.4" r="7.6" fill="url(#h0)"/><circle cx="970.9" cy="797.5" r="12.3" fill="url(#g4)"/><circle cx="970.9" cy="797.5" r="12.3" fill="url(#h4)"/><circle cx="866.0" cy="601.7" r="10.2" fill="url(#g2)"/><circle cx="866.0" cy="601.7" r="10.2" fill="url(#h2)"/><circle cx="882.1" cy="616.5" r="10.9" fill="url(#g3)"/><circle cx="882.1" cy="616.5" r="10.9" fill="url(#h3)"/><circle cx="898.6" cy="632.4" r="11.0" fill="url(#g3)"/><circle cx="898.6" cy="632.4" r="11.0" fill="url(#h3)"/><circle cx="915.4" cy="648.0" r="12.1" fill="url(#g4)"/><circle cx="915.4" cy="648.0" r="12.1" fill="url(#h4)"/><circle cx="933.4" cy="664.3" r="16.0" fill="url(#g6)"/><circle cx="933.4" cy="664.3" r="16.0" fill="url(#h6)"/><circle cx="952.0" cy="730.5" r="17.0" fill="url(#g7)"/><circle cx="952.0" cy="730.5" r="17.0" fill="url(#h7)"/><circle cx="952.4" cy="705.7" r="19.0" fill="url(#g9)"/><circle cx="952.4" cy="705.7" r="19.0" fill="url(#h9)"/><circle cx="970.5" cy="772.0" r="14.0" fill="url(#g4)"/><circle cx="970.5" cy="772.0" r="14.0" fill="url(#h4)"/><circle cx="970.6" cy="747.4" r="18.4" fill="url(#g7)"/><circle cx="970.6" cy="747.4" r="18.4" fill="url(#h7)"/><circle cx="991.3" cy="816.7" r="15.5" fill="url(#g5)"/><circle cx="991.3" cy="816.7" r="15.5" fill="url(#h5)"/><circle cx="990.7" cy="791.4" r="16.0" fill="url(#g5)"/><circle cx="990.7" cy="791.4" r="16.0" fill="url(#h5)"/><circle cx="1010.3" cy="835.7" r="15.8" fill="url(#g5)"/><circle cx="1010.3" cy="835.7" r="15.8" fill="url(#h5)"/><circle cx="824.6" cy="688.5" r="10.4" fill="url(#g3)"/><circle cx="824.6" cy="688.5" r="10.4" fill="url(#h3)"/><circle cx="839.2" cy="704.6" r="10.4" fill="url(#g3)"/><circle cx="839.2" cy="704.6" r="10.4" fill="url(#h3)"/><circle cx="840.2" cy="727.3" r="7.5" fill="url(#g2)"/><circle cx="840.2" cy="727.3" r="7.5" fill="url(#h2)"/><circle cx="856.5" cy="718.0" r="13.0" fill="url(#g5)"/><circle cx="856.5" cy="718.0" r="13.0" fill="url(#h5)"/><circle cx="857.2" cy="746.5" r="9.5" fill="url(#g3)"/><circle cx="857.2" cy="746.5" r="9.5" fill="url(#h3)"/><circle cx="859.6" cy="768.7" r="7.0" fill="url(#g0)"/><circle cx="859.6" cy="768.7" r="7.0" fill="url(#h0)"/><circle cx="871.8" cy="765.4" r="8.0" fill="url(#g3)"/><circle cx="871.8" cy="765.4" r="8.0" fill="url(#h3)"/><circle cx="874.7" cy="787.2" r="6.5" fill="url(#g0)"/><circle cx="874.7" cy="787.2" r="6.5" fill="url(#h0)"/><circle cx="875.4" cy="810.3" r="8.7" fill="url(#g3)"/><circle cx="875.4" cy="810.3" r="8.7" fill="url(#h3)"/><circle cx="889.9" cy="808.6" r="12.7" fill="url(#g6)"/><circle cx="889.9" cy="808.6" r="12.7" fill="url(#h6)"/><circle cx="892.2" cy="832.3" r="9.0" fill="url(#g3)"/><circle cx="892.2" cy="832.3" r="9.0" fill="url(#h3)"/><circle cx="910.1" cy="850.2" r="13.9" fill="url(#g5)"/><circle cx="910.1" cy="850.2" r="13.9" fill="url(#h5)"/><circle cx="808.7" cy="648.1" r="15.3" fill="url(#g5)"/><circle cx="808.7" cy="648.1" r="15.3" fill="url(#h5)"/><circle cx="824.1" cy="664.5" r="14.9" fill="url(#g5)"/><circle cx="824.1" cy="664.5" r="14.9" fill="url(#h5)"/><circle cx="839.9" cy="681.2" r="14.9" fill="url(#g5)"/><circle cx="839.9" cy="681.2" r="14.9" fill="url(#h5)"/><circle cx="856.7" cy="697.0" r="15.3" fill="url(#g5)"/><circle cx="856.7" cy="697.0" r="15.3" fill="url(#h5)"/><circle cx="874.7" cy="741.8" r="15.6" fill="url(#g6)"/><circle cx="874.7" cy="741.8" r="15.6" fill="url(#h6)"/><circle cx="873.8" cy="714.0" r="15.6" fill="url(#g5)"/><circle cx="873.8" cy="714.0" r="15.6" fill="url(#h5)"/><circle cx="893.7" cy="782.0" r="15.6" fill="url(#g5)"/><circle cx="893.7" cy="782.0" r="15.6" fill="url(#h5)"/><circle cx="892.8" cy="756.9" r="20.0" fill="url(#g9)"/><circle cx="892.8" cy="756.9" r="20.0" fill="url(#h9)"/><circle cx="912.4" cy="826.5" r="15.6" fill="url(#g5)"/><circle cx="912.4" cy="826.5" r="15.6" fill="url(#h5)"/><circle cx="911.4" cy="800.6" r="15.1" fill="url(#g5)"/><circle cx="911.4" cy="800.6" r="15.1" fill="url(#h5)"/><circle cx="931.2" cy="871.0" r="12.8" fill="url(#g4)"/><circle cx="931.2" cy="871.0" r="12.8" fill="url(#h4)"/><circle cx="930.6" cy="844.4" r="17.6" fill="url(#g6)"/><circle cx="930.6" cy="844.4" r="17.6" fill="url(#h6)"/><circle cx="949.7" cy="889.6" r="15.0" fill="url(#g4)"/><circle cx="949.7" cy="889.6" r="15.0" fill="url(#h4)"/><circle cx="766.2" cy="736.7" r="11.3" fill="url(#g3)"/><circle cx="766.2" cy="736.7" r="11.3" fill="url(#h3)"/><circle cx="779.4" cy="752.7" r="12.3" fill="url(#g5)"/><circle cx="779.4" cy="752.7" r="12.3" fill="url(#h5)"/><circle cx="795.5" cy="771.8" r="13.0" fill="url(#g5)"/><circle cx="795.5" cy="771.8" r="13.0" fill="url(#h5)"/><circle cx="782.3" cy="776.5" r="12.5" fill="url(#g5)"/><circle cx="782.3" cy="776.5" r="12.5" fill="url(#h5)"/><circle cx="797.4" cy="795.9" r="13.2" fill="url(#g5)"/><circle cx="797.4" cy="795.9" r="13.2" fill="url(#h5)"/><circle cx="798.3" cy="819.5" r="6.0" fill="url(#g0)"/><circle cx="798.3" cy="819.5" r="6.0" fill="url(#h0)"/><circle cx="812.5" cy="815.7" r="13.0" fill="url(#g6)"/><circle cx="812.5" cy="815.7" r="13.0" fill="url(#h6)"/><circle cx="813.4" cy="839.3" r="6.0" fill="url(#g2)"/><circle cx="813.4" cy="839.3" r="6.0" fill="url(#h2)"/><circle cx="813.4" cy="856.3" r="7.0" fill="url(#g2)"/><circle cx="813.4" cy="856.3" r="7.0" fill="url(#h2)"/><circle cx="825.7" cy="856.3" r="10.0" fill="url(#g4)"/><circle cx="825.7" cy="856.3" r="10.0" fill="url(#h4)"/><circle cx="816.5" cy="862.0" r="8.0" fill="url(#g2)"/><circle cx="816.5" cy="862.0" r="8.0" fill="url(#h2)"/><circle cx="827.8" cy="861.5" r="8.5" fill="url(#g4)"/><circle cx="827.8" cy="861.5" r="8.5" fill="url(#h4)"/><circle cx="831.2" cy="883.5" r="8.5" fill="url(#g3)"/><circle cx="831.2" cy="883.5" r="8.5" fill="url(#h3)"/><circle cx="851.5" cy="883.0" r="17.0" fill="url(#g6)"/><circle cx="851.5" cy="883.0" r="17.0" fill="url(#h6)"/><circle cx="847.5" cy="905.5" r="8.0" fill="url(#g2)"/><circle cx="847.5" cy="905.5" r="8.0" fill="url(#h2)"/><circle cx="750.3" cy="696.1" r="11.5" fill="url(#g3)"/><circle cx="750.3" cy="696.1" r="11.5" fill="url(#h3)"/><circle cx="765.2" cy="712.8" r="11.7" fill="url(#g3)"/><circle cx="765.2" cy="712.8" r="11.7" fill="url(#h3)"/><circle cx="781.3" cy="730.5" r="11.8" fill="url(#g3)"/><circle cx="781.3" cy="730.5" r="11.8" fill="url(#h3)"/><circle cx="796.6" cy="748.0" r="12.5" fill="url(#g3)"/><circle cx="796.6" cy="748.0" r="12.5" fill="url(#h3)"/><circle cx="814.9" cy="795.4" r="15.1" fill="url(#g5)"/><circle cx="814.9" cy="795.4" r="15.1" fill="url(#h5)"/><circle cx="813.4" cy="766.0" r="16.4" fill="url(#g5)"/><circle cx="813.4" cy="766.0" r="16.4" fill="url(#h5)"/><circle cx="831.9" cy="838.4" r="17.0" fill="url(#g7)"/><circle cx="831.9" cy="838.4" r="17.0" fill="url(#h7)"/><circle cx="831.6" cy="809.3" r="17.5" fill="url(#g6)"/><circle cx="831.6" cy="809.3" r="17.5" fill="url(#h6)"/><circle cx="850.0" cy="853.5" r="20.0" fill="url(#g7)"/><circle cx="850.0" cy="853.5" r="20.0" fill="url(#h7)"/><circle cx="869.6" cy="927.0" r="13.0" fill="url(#g4)"/><circle cx="869.6" cy="927.0" r="13.0" fill="url(#h4)"/><circle cx="868.7" cy="899.5" r="18.4" fill="url(#g6)"/><circle cx="868.7" cy="899.5" r="18.4" fill="url(#h6)"/><circle cx="887.7" cy="945.6" r="14.7" fill="url(#g4)"/><circle cx="887.7" cy="945.6" r="14.7" fill="url(#h4)"/><circle cx="704.3" cy="785.1" r="12.0" fill="url(#g4)"/><circle cx="704.3" cy="785.1" r="12.0" fill="url(#h4)"/><circle cx="718.0" cy="804.0" r="13.0" fill="url(#g6)"/><circle cx="718.0" cy="804.0" r="13.0" fill="url(#h6)"/><circle cx="721.5" cy="829.0" r="11.7" fill="url(#g4)"/><circle cx="721.5" cy="829.0" r="11.7" fill="url(#h4)"/><circle cx="734.0" cy="823.7" r="13.0" fill="url(#g6)"/><circle cx="734.0" cy="823.7" r="13.0" fill="url(#h6)"/><circle cx="737.0" cy="848.0" r="7.0" fill="url(#g2)"/><circle cx="737.0" cy="848.0" r="7.0" fill="url(#h2)"/><circle cx="738.0" cy="872.0" r="7.0" fill="url(#g2)"/><circle cx="738.0" cy="872.0" r="7.0" fill="url(#h2)"/><circle cx="746.0" cy="868.0" r="12.0" fill="url(#g5)"/><circle cx="746.0" cy="868.0" r="12.0" fill="url(#h5)"/><circle cx="752.2" cy="846.1" r="17.0" fill="url(#g6)"/><circle cx="752.2" cy="846.1" r="17.0" fill="url(#h6)"/><circle cx="750.4" cy="892.0" r="7.0" fill="url(#g2)"/><circle cx="750.4" cy="892.0" r="7.0" fill="url(#h2)"/><circle cx="756.6" cy="914.7" r="9.0" fill="url(#g2)"/><circle cx="756.6" cy="914.7" r="9.0" fill="url(#h2)"/><circle cx="770.0" cy="890.4" r="19.0" fill="url(#g7)"/><circle cx="770.0" cy="890.4" r="19.0" fill="url(#h7)"/><circle cx="770.8" cy="936.0" r="9.0" fill="url(#g2)"/><circle cx="770.8" cy="936.0" r="9.0" fill="url(#h2)"/><circle cx="785.8" cy="958.0" r="10.0" fill="url(#g3)"/><circle cx="785.8" cy="958.0" r="10.0" fill="url(#h3)"/><circle cx="787.3" cy="936.0" r="11.0" fill="url(#g3)"/><circle cx="787.3" cy="936.0" r="11.0" fill="url(#h3)"/><circle cx="806.2" cy="982.4" r="14.5" fill="url(#g4)"/><circle cx="806.2" cy="982.4" r="14.5" fill="url(#h4)"/><circle cx="690.6" cy="744.6" r="10.8" fill="url(#g3)"/><circle cx="690.6" cy="744.6" r="10.8" fill="url(#h3)"/><circle cx="705.1" cy="762.1" r="12.8" fill="url(#g4)"/><circle cx="705.1" cy="762.1" r="12.8" fill="url(#h4)"/><circle cx="719.7" cy="780.4" r="13.0" fill="url(#g4)"/><circle cx="719.7" cy="780.4" r="13.0" fill="url(#h4)"/><circle cx="735.0" cy="800.5" r="15.3" fill="url(#g5)"/><circle cx="735.0" cy="800.5" r="15.3" fill="url(#h5)"/><circle cx="750.6" cy="819.0" r="16.9" fill="url(#g6)"/><circle cx="750.6" cy="819.0" r="16.9" fill="url(#h6)"/><circle cx="768.9" cy="864.2" r="21.4" fill="url(#g9)"/><circle cx="768.9" cy="864.2" r="21.4" fill="url(#h9)"/><circle cx="786.5" cy="909.2" r="20.5" fill="url(#g7)"/><circle cx="786.5" cy="909.2" r="20.5" fill="url(#h7)"/><circle cx="804.6" cy="955.7" r="17.3" fill="url(#g6)"/><circle cx="804.6" cy="955.7" r="17.3" fill="url(#h6)"/><circle cx="824.3" cy="1000.0" r="19.0" fill="url(#g6)"/><circle cx="824.3" cy="1000.0" r="19.0" fill="url(#h6)"/><polyline points="655.4,887.3 819,1041 1104.1,944.7 1136,628" fill="none" stroke="#000" stroke-width="3.4" stroke-linejoin="miter"/><line x1="666.79" y1="898.04" x2="660.79" y2="898.04" stroke="#000" stroke-width="2"/><line x1="680.43" y1="910.85" x2="676.93" y2="910.85" stroke="#000" stroke-width="2"/><line x1="694.52" y1="924.08" x2="688.52" y2="924.08" stroke="#000" stroke-width="2"/><line x1="708.17" y1="936.89" x2="704.67" y2="936.89" stroke="#000" stroke-width="2"/><line x1="722.24" y1="950.10" x2="716.24" y2="950.10" stroke="#000" stroke-width="2"/><line x1="737.16" y1="964.12" x2="733.66" y2="964.12" stroke="#000" stroke-width="2"/><line x1="752.57" y1="978.59" x2="746.57" y2="978.59" stroke="#000" stroke-width="2"/><line x1="767.80" y1="992.88" x2="764.30" y2="992.88" stroke="#000" stroke-width="2"/><line x1="783.51" y1="1007.64" x2="777.51" y2="1007.64" stroke="#000" stroke-width="2"/><line x1="799.84" y1="1022.97" x2="796.34" y2="1022.97" stroke="#000" stroke-width="2"/><line x1="816.72" y1="1038.82" x2="810.72" y2="1038.82" stroke="#000" stroke-width="2"/><line x1="655.13" y1="887.10" x2="651.63" y2="887.10" stroke="#000" stroke-width="2"/><line x1="852.89" y1="1029.68" x2="852.89" y2="1035.68" stroke="#000" stroke-width="2"/><line x1="883.60" y1="1019.27" x2="883.60" y2="1022.77" stroke="#000" stroke-width="2"/><line x1="913.55" y1="1009.12" x2="913.55" y2="1015.12" stroke="#000" stroke-width="2"/><line x1="943.14" y1="999.10" x2="943.14" y2="1002.60" stroke="#000" stroke-width="2"/><line x1="972.02" y1="989.32" x2="972.02" y2="995.32" stroke="#000" stroke-width="2"/><line x1="999.51" y1="980.00" x2="999.51" y2="983.50" stroke="#000" stroke-width="2"/><line x1="1026.36" y1="970.90" x2="1026.36" y2="976.90" stroke="#000" stroke-width="2"/><line x1="1053.13" y1="961.83" x2="1053.13" y2="965.33" stroke="#000" stroke-width="2"/><line x1="1079.28" y1="952.97" x2="1079.28" y2="958.97" stroke="#000" stroke-width="2"/><line x1="821.40" y1="1040.35" x2="821.40" y2="1043.85" stroke="#000" stroke-width="2"/><line x1="1103.76" y1="944.68" x2="1103.76" y2="948.18" stroke="#000" stroke-width="2"/><line x1="1104.95" y1="933.05" x2="1110.95" y2="933.05" stroke="#000" stroke-width="2"/><line x1="1106.73" y1="915.68" x2="1110.23" y2="915.68" stroke="#000" stroke-width="2"/><line x1="1108.53" y1="898.13" x2="1114.53" y2="898.13" stroke="#000" stroke-width="2"/><line x1="1110.31" y1="880.78" x2="1113.81" y2="880.78" stroke="#000" stroke-width="2"/><line x1="1112.11" y1="863.24" x2="1118.11" y2="863.24" stroke="#000" stroke-width="2"/><line x1="1114.01" y1="844.69" x2="1117.51" y2="844.69" stroke="#000" stroke-width="2"/><line x1="1115.93" y1="825.94" x2="1121.93" y2="825.94" stroke="#000" stroke-width="2"/><line x1="1117.90" y1="806.75" x2="1121.40" y2="806.75" stroke="#000" stroke-width="2"/><line x1="1119.88" y1="787.35" x2="1125.88" y2="787.35" stroke="#000" stroke-width="2"/><line x1="1121.73" y1="769.33" x2="1125.23" y2="769.33" stroke="#000" stroke-width="2"/><line x1="1123.59" y1="751.14" x2="1129.59" y2="751.14" stroke="#000" stroke-width="2"/><line x1="1125.58" y1="731.77" x2="1129.08" y2="731.77" stroke="#000" stroke-width="2"/><line x1="1127.58" y1="712.20" x2="1133.58" y2="712.20" stroke="#000" stroke-width="2"/><line x1="1129.66" y1="691.91" x2="1133.16" y2="691.91" stroke="#000" stroke-width="2"/><line x1="1131.77" y1="671.39" x2="1137.77" y2="671.39" stroke="#000" stroke-width="2"/><line x1="1133.91" y1="650.47" x2="1137.41" y2="650.47" stroke="#000" stroke-width="2"/><line x1="1136.08" y1="629.30" x2="1142.08" y2="629.30" stroke="#000" stroke-width="2"/><line x1="1103.76" y1="944.68" x2="1107.26" y2="944.68" stroke="#000" stroke-width="2"/><rect x="1174" y="633.20" width="41.799999999999955" height="21.30" fill="#000000"/><rect x="1174" y="654.20" width="41.799999999999955" height="21.30" fill="#550000"/><rect x="1174" y="675.20" width="41.799999999999955" height="21.30" fill="#991100"/><rect x="1174" y="696.20" width="41.799999999999955" height="21.30" fill="#e41a00"/><rect x="1174" y="717.20" width="41.799999999999955" height="21.30" fill="#ff3d20"/><rect x="1174" y="738.20" width="41.799999999999955" height="21.30" fill="#ff5c00"/><rect x="1174" y="759.20" width="41.799999999999955" height="21.30" fill="#ff8c00"/><rect x="1174" y="780.20" width="41.799999999999955" height="21.30" fill="#ffc400"/><rect x="1174" y="801.20" width="41.799999999999955" height="21.30" fill="#ffff70"/><rect x="1174" y="822.20" width="41.799999999999955" height="21.30" fill="#fffcd2"/><rect x="1174" y="633.2" width="41.799999999999955" height="210.0" fill="none" stroke="#8a8a8a" stroke-width="1.2"/><line x1="1215.80" y1="654.20" x2="1221.80" y2="654.20" stroke="#333" stroke-width="1.5"/><text x="1229.3" y="654.7" font-family="Liberation Serif" font-weight="bold" font-size="15.5" dominant-baseline="central" fill="#1a1a1a" textLength="40.2" lengthAdjust="spacingAndGlyphs">49.50</text><line x1="1215.80" y1="675.20" x2="1221.80" y2="675.20" stroke="#333" stroke-width="1.5"/><text x="1229.3" y="675.7" font-family="Liberation Serif" font-weight="bold" font-size="15.5" dominant-baseline="central" fill="#1a1a1a" textLength="40.2" lengthAdjust="spacingAndGlyphs">45.41</text><line x1="1215.80" y1="696.20" x2="1221.80" y2="696.20" stroke="#333" stroke-width="1.5"/><text x="1229.3" y="696.7" font-family="Liberation Serif" font-weight="bold" font-size="15.5" dominant-baseline="central" fill="#1a1a1a" textLength="40.2" lengthAdjust="spacingAndGlyphs">41.33</text><line x1="1215.80" y1="717.20" x2="1221.80" y2="717.20" stroke="#333" stroke-width="1.5"/><text x="1229.3" y="717.7" font-family="Liberation Serif" font-weight="bold" font-size="15.5" dominant-baseline="central" fill="#1a1a1a" textLength="40.2" lengthAdjust="spacingAndGlyphs">37.24</text><line x1="1215.80" y1="738.20" x2="1221.80" y2="738.20" stroke="#333" stroke-width="1.5"/><text x="1229.3" y="738.7" font-family="Liberation Serif" font-weight="bold" font-size="15.5" dominant-baseline="central" fill="#1a1a1a" textLength="40.2" lengthAdjust="spacingAndGlyphs">33.15</text><line x1="1215.80" y1="759.20" x2="1221.80" y2="759.20" stroke="#333" stroke-width="1.5"/><text x="1229.3" y="759.7" font-family="Liberation Serif" font-weight="bold" font-size="15.5" dominant-baseline="central" fill="#1a1a1a" textLength="40.2" lengthAdjust="spacingAndGlyphs">29.06</text><line x1="1215.80" y1="780.20" x2="1221.80" y2="780.20" stroke="#333" stroke-width="1.5"/><text x="1229.3" y="780.7" font-family="Liberation Serif" font-weight="bold" font-size="15.5" dominant-baseline="central" fill="#1a1a1a" textLength="40.2" lengthAdjust="spacingAndGlyphs">24.98</text><line x1="1215.80" y1="801.20" x2="1221.80" y2="801.20" stroke="#333" stroke-width="1.5"/><text x="1229.3" y="801.7" font-family="Liberation Serif" font-weight="bold" font-size="15.5" dominant-baseline="central" fill="#1a1a1a" textLength="40.2" lengthAdjust="spacingAndGlyphs">20.89</text><line x1="1215.80" y1="822.20" x2="1221.80" y2="822.20" stroke="#333" stroke-width="1.5"/><text x="1229.3" y="822.7" font-family="Liberation Serif" font-weight="bold" font-size="15.5" dominant-baseline="central" fill="#1a1a1a" textLength="40.2" lengthAdjust="spacingAndGlyphs">16.80</text><text x="59" y="37" font-family="Liberation Serif" font-weight="bold" font-size="26" fill="#000" textLength="234" lengthAdjust="spacingAndGlyphs">PEGDA600 = 28wt%</text><text x="636.25" y="37" font-family="Liberation Serif" font-weight="bold" font-size="26" fill="#000" textLength="195" lengthAdjust="spacingAndGlyphs">PETMP = 35wt%</text><text x="80" y="551.25" font-family="Liberation Serif" font-weight="bold" font-size="26" fill="#000" textLength="184.5" lengthAdjust="spacingAndGlyphs">TMPTA = 7wt%</text><text x="6" y="46" font-family="Liberation Sans" font-size="35" fill="#1a1a1a">(a)</text><text x="581" y="51" font-family="Liberation Sans" font-size="35" fill="#1a1a1a">(b)</text><text x="12.5" y="571" font-family="Liberation Sans" font-size="35" fill="#1a1a1a">(c)</text><text x="568" y="578.5" font-family="Liberation Sans" font-size="35" fill="#1a1a1a">(d)</text><text x="0" y="0" transform="matrix(0.9527 -0.3039 0.6660 0.7460 32.5 383.3)" font-family="Liberation Serif" font-size="14" font-weight="bold" font-style="normal" text-anchor="middle" dominant-baseline="central" fill="#1a1a1a">3</text><text x="0" y="0" transform="matrix(0.9527 -0.3039 0.6660 0.7460 57.5 410.8)" font-family="Liberation Serif" font-size="14" font-weight="bold" font-style="normal" text-anchor="middle" dominant-baseline="central" fill="#1a1a1a">4</text><text x="0" y="0" transform="matrix(0.9527 -0.3039 0.6660 0.7460 82.5 439.7)" font-family="Liberation Serif" font-size="14" font-weight="bold" font-style="normal" text-anchor="middle" dominant-baseline="central" fill="#1a1a1a">5</text><text x="0" y="0" transform="matrix(0.9527 -0.3039 0.6660 0.7460 110.8 472.5)" font-family="Liberation Serif" font-size="14" font-weight="bold" font-style="normal" text-anchor="middle" dominant-baseline="central" fill="#1a1a1a">6</text><text x="0" y="0" transform="matrix(0.9527 -0.3039 0.6660 0.7460 138.5 504.5)" font-family="Liberation Serif" font-size="14" font-weight="bold" font-style="normal" text-anchor="middle" dominant-baseline="central" fill="#1a1a1a">7</text><text x="0" y="0" transform="matrix(0.6660 0.7460 -0.9527 0.3039 214.0 521.0)" font-family="Liberation Serif" font-size="16.5" font-weight="bold" font-style="normal" text-anchor="middle" dominant-baseline="central" fill="#1a1a1a" textLength="17" lengthAdjust="spacingAndGlyphs">35</text><text x="0" y="0" transform="matrix(0.6660 0.7460 -0.9527 0.3039 276.0 501.0)" font-family="Liberation Serif" font-size="16.5" font-weight="bold" font-style="normal" text-anchor="middle" dominant-baseline="central" fill="#1a1a1a" textLength="17" lengthAdjust="spacingAndGlyphs">30</text><text x="0" y="0" transform="matrix(0.6660 0.7460 -0.9527 0.3039 335.0 482.0)" font-family="Liberation Serif" font-size="16.5" font-weight="bold" font-style="normal" text-anchor="middle" dominant-baseline="central" fill="#1a1a1a" textLength="17" lengthAdjust="spacingAndGlyphs">25</text><text x="0" y="0" transform="matrix(0.6660 0.7460 -0.9527 0.3039 390.0 462.0)" font-family="Liberation Serif" font-size="16.5" font-weight="bold" font-style="normal" text-anchor="middle" dominant-baseline="central" fill="#1a1a1a" textLength="17" lengthAdjust="spacingAndGlyphs">20</text><text x="0" y="0" transform="matrix(0.6660 0.7460 -0.9527 0.3039 444.0 446.0)" font-family="Liberation Serif" font-size="16.5" font-weight="bold" font-style="normal" text-anchor="middle" dominant-baseline="central" fill="#1a1a1a" textLength="17" lengthAdjust="spacingAndGlyphs">15</text><text x="0" y="0" transform="translate(473.0 417.5) rotate(0) skewY(27)" font-family="Liberation Serif" font-size="18" font-weight="normal" font-style="normal" text-anchor="middle" dominant-baseline="central" fill="#222" stroke="#222" stroke-width="0.45">30</text><text x="0" y="0" transform="translate(477.0 364.5) rotate(0) skewY(27)" font-family="Liberation Serif" font-size="18" font-weight="normal" font-style="normal" text-anchor="middle" dominant-baseline="central" fill="#222" stroke="#222" stroke-width="0.45">35</text><text x="0" y="0" transform="translate(481.5 309.5) rotate(0) skewY(27)" font-family="Liberation Serif" font-size="18" font-weight="normal" font-style="normal" text-anchor="middle" dominant-baseline="central" fill="#222" stroke="#222" stroke-width="0.45">40</text><text x="0" y="0" transform="translate(486.0 254.0) rotate(0) skewY(27)" font-family="Liberation Serif" font-size="18" font-weight="normal" font-style="normal" text-anchor="middle" dominant-baseline="central" fill="#222" stroke="#222" stroke-width="0.45">45</text><text x="0" y="0" transform="translate(490.6 195.2) rotate(0) skewY(27)" font-family="Liberation Serif" font-size="18" font-weight="normal" font-style="normal" text-anchor="middle" dominant-baseline="central" fill="#222" stroke="#222" stroke-width="0.45">50</text><text x="0" y="0" transform="translate(496.2 134.7) rotate(0) skewY(27)" font-family="Liberation Serif" font-size="18" font-weight="normal" font-style="normal" text-anchor="middle" dominant-baseline="central" fill="#222" stroke="#222" stroke-width="0.45">55</text><text x="0" y="0" transform="matrix(0.6660 0.7460 -0.9527 0.3039 63.0 446.0)" font-family="Liberation Serif" font-size="17" font-weight="bold" font-style="normal" text-anchor="middle" dominant-baseline="central" fill="#1a1a1a" textLength="97" lengthAdjust="spacingAndGlyphs">TMPTA(wt%)</text><text x="0" y="0" transform="matrix(0.9527 -0.3039 0.6660 0.7460 352.5 499.7)" font-family="Liberation Serif" font-size="17" font-weight="bold" font-style="normal" text-anchor="middle" dominant-baseline="central" fill="#1a1a1a" textLength="139" lengthAdjust="spacingAndGlyphs">PETMP(wt%)</text><text x="0" y="0" transform="translate(503.0 305.0) rotate(-86)" font-family="Liberation Serif" font-size="19" font-weight="bold" font-style="italic" text-anchor="middle" dominant-baseline="central" fill="#1a1a1a" textLength="92.5" lengthAdjust="spacingAndGlyphs">LC(wt%)</text><text x="0" y="0" transform="matrix(0.9623 -0.2721 0.7417 0.6707 632.4 384.9)" font-family="Liberation Serif" font-size="14" font-weight="bold" font-style="normal" text-anchor="middle" dominant-baseline="central" fill="#1a1a1a">3</text><text x="0" y="0" transform="matrix(0.9623 -0.2721 0.7417 0.6707 659.8 409.8)" font-family="Liberation Serif" font-size="14" font-weight="bold" font-style="normal" text-anchor="middle" dominant-baseline="central" fill="#1a1a1a">4</text><text x="0" y="0" transform="matrix(0.9623 -0.2721 0.7417 0.6707 689.7 437.2)" font-family="Liberation Serif" font-size="14" font-weight="bold" font-style="normal" text-anchor="middle" dominant-baseline="central" fill="#1a1a1a">5</text><text x="0" y="0" transform="matrix(0.9623 -0.2721 0.7417 0.6707 722.1 467.1)" font-family="Liberation Serif" font-size="14" font-weight="bold" font-style="normal" text-anchor="middle" dominant-baseline="central" fill="#1a1a1a">6</text><text x="0" y="0" transform="matrix(0.9623 -0.2721 0.7417 0.6707 752.0 497.0)" font-family="Liberation Serif" font-size="14" font-weight="bold" font-style="normal" text-anchor="middle" dominant-baseline="central" fill="#1a1a1a">7</text><text x="0" y="0" transform="matrix(0.7417 0.6707 -0.9623 0.2721 839.2 512.7)" font-family="Liberation Serif" font-size="17" font-weight="bold" font-style="normal" text-anchor="middle" dominant-baseline="central" fill="#1a1a1a" textLength="19" lengthAdjust="spacingAndGlyphs">28</text><text x="0" y="0" transform="matrix(0.7417 0.6707 -0.9623 0.2721 901.3 496.4)" font-family="Liberation Serif" font-size="17" font-weight="bold" font-style="normal" text-anchor="middle" dominant-baseline="central" fill="#1a1a1a" textLength="19" lengthAdjust="spacingAndGlyphs">24</text><text x="0" y="0" transform="matrix(0.7417 0.6707 -0.9623 0.2721 962.0 478.6)" font-family="Liberation Serif" font-size="17" font-weight="bold" font-style="normal" text-anchor="middle" dominant-baseline="central" fill="#1a1a1a" textLength="19" lengthAdjust="spacingAndGlyphs">20</text><text x="0" y="0" transform="matrix(0.7417 0.6707 -0.9623 0.2721 1019.7 463.8)" font-family="Liberation Serif" font-size="17" font-weight="bold" font-style="normal" text-anchor="middle" dominant-baseline="central" fill="#1a1a1a" textLength="19" lengthAdjust="spacingAndGlyphs">16</text><text x="0" y="0" transform="matrix(0.7417 0.6707 -0.9623 0.2721 1073.0 447.0)" font-family="Liberation Serif" font-size="17" font-weight="bold" font-style="normal" text-anchor="middle" dominant-baseline="central" fill="#1a1a1a" textLength="19" lengthAdjust="spacingAndGlyphs">12</text><text x="0" y="0" transform="translate(1106.0 411.0) rotate(0) skewY(18) scale(0.78 1)" font-family="Liberation Serif" font-size="23" font-weight="normal" font-style="normal" text-anchor="middle" dominant-baseline="central" fill="#222" stroke="#222" stroke-width="0.45">30</text><text x="0" y="0" transform="translate(1112.0 341.5) rotate(0) skewY(18) scale(0.78 1)" font-family="Liberation Serif" font-size="23" font-weight="normal" font-style="normal" text-anchor="middle" dominant-baseline="central" fill="#222" stroke="#222" stroke-width="0.45">35</text><text x="0" y="0" transform="translate(1118.5 267.4) rotate(0) skewY(18) scale(0.78 1)" font-family="Liberation Serif" font-size="23" font-weight="normal" font-style="normal" text-anchor="middle" dominant-baseline="central" fill="#222" stroke="#222" stroke-width="0.45">40</text><text x="0" y="0" transform="translate(1130.5 191.5) rotate(0) skewY(18) scale(0.78 1)" font-family="Liberation Serif" font-size="23" font-weight="normal" font-style="normal" text-anchor="middle" dominant-baseline="central" fill="#222" stroke="#222" stroke-width="0.45">45</text><text x="0" y="0" transform="translate(1133.3 111.4) rotate(0) skewY(18) scale(0.78 1)" font-family="Liberation Serif" font-size="23" font-weight="normal" font-style="normal" text-anchor="middle" dominant-baseline="central" fill="#222" stroke="#222" stroke-width="0.45">50</text><text x="0" y="0" transform="matrix(0.7417 0.6707 -0.9623 0.2721 663.6 450.3)" font-family="Liberation Serif" font-size="17" font-weight="bold" font-style="normal" text-anchor="middle" dominant-baseline="central" fill="#1a1a1a" textLength="115" lengthAdjust="spacingAndGlyphs">TMPTA(wt%)</text><text x="0" y="0" transform="matrix(0.9623 -0.2721 0.7417 0.6707 982.7 497.9)" font-family="Liberation Serif" font-size="17" font-weight="bold" font-style="normal" text-anchor="middle" dominant-baseline="central" fill="#1a1a1a" textLength="199" lengthAdjust="spacingAndGlyphs">PEGDA600(wt%)</text><text x="0" y="0" transform="translate(1141.0 277.5) rotate(-84)" font-family="Liberation Serif" font-size="21" font-weight="bold" font-style="italic" text-anchor="middle" dominant-baseline="central" fill="#1a1a1a" textLength="110" lengthAdjust="spacingAndGlyphs">LC(wt%)</text><text x="0" y="0" transform="matrix(0.9453 -0.3261 0.6863 0.7273 30.0 910.0)" font-family="Liberation Serif" font-size="14" font-weight="bold" font-style="normal" text-anchor="middle" dominant-baseline="central" fill="#1a1a1a" textLength="19" lengthAdjust="spacingAndGlyphs">15</text><text x="0" y="0" transform="matrix(0.9453 -0.3261 0.6863 0.7273 56.2 937.5)" font-family="Liberation Serif" font-size="14" font-weight="bold" font-style="normal" text-anchor="middle" dominant-baseline="central" fill="#1a1a1a" textLength="19" lengthAdjust="spacingAndGlyphs">20</text><text x="0" y="0" transform="matrix(0.9453 -0.3261 0.6863 0.7273 81.2 966.2)" font-family="Liberation Serif" font-size="14" font-weight="bold" font-style="normal" text-anchor="middle" dominant-baseline="central" fill="#1a1a1a" textLength="19" lengthAdjust="spacingAndGlyphs">25</text><text x="0" y="0" transform="matrix(0.9453 -0.3261 0.6863 0.7273 108.8 996.2)" font-family="Liberation Serif" font-size="14" font-weight="bold" font-style="normal" text-anchor="middle" dominant-baseline="central" fill="#1a1a1a" textLength="19" lengthAdjust="spacingAndGlyphs">30</text><text x="0" y="0" transform="matrix(0.9453 -0.3261 0.6863 0.7273 138.8 1028.8)" font-family="Liberation Serif" font-size="14" font-weight="bold" font-style="normal" text-anchor="middle" dominant-baseline="central" fill="#1a1a1a" textLength="19" lengthAdjust="spacingAndGlyphs">35</text><text x="0" y="0" transform="matrix(0.6863 0.7273 -0.9453 0.3261 220.2 1042.1)" font-family="Liberation Serif" font-size="16.5" font-weight="bold" font-style="normal" text-anchor="middle" dominant-baseline="central" fill="#1a1a1a" textLength="17" lengthAdjust="spacingAndGlyphs">28</text><text x="0" y="0" transform="matrix(0.6863 0.7273 -0.9453 0.3261 279.8 1020.0)" font-family="Liberation Serif" font-size="16.5" font-weight="bold" font-style="normal" text-anchor="middle" dominant-baseline="central" fill="#1a1a1a" textLength="17" lengthAdjust="spacingAndGlyphs">24</text><text x="0" y="0" transform="matrix(0.6863 0.7273 -0.9453 0.3261 338.2 1000.1)" font-family="Liberation Serif" font-size="16.5" font-weight="bold" font-style="normal" text-anchor="middle" dominant-baseline="central" fill="#1a1a1a" textLength="17" lengthAdjust="spacingAndGlyphs">20</text><text x="0" y="0" transform="matrix(0.6863 0.7273 -0.9453 0.3261 394.3 981.4)" font-family="Liberation Serif" font-size="16.5" font-weight="bold" font-style="normal" text-anchor="middle" dominant-baseline="central" fill="#1a1a1a" textLength="17" lengthAdjust="spacingAndGlyphs">16</text><text x="0" y="0" transform="matrix(0.6863 0.7273 -0.9453 0.3261 448.0 962.7)" font-family="Liberation Serif" font-size="16.5" font-weight="bold" font-style="normal" text-anchor="middle" dominant-baseline="central" fill="#1a1a1a" textLength="17" lengthAdjust="spacingAndGlyphs">12</text><text x="0" y="0" transform="translate(476.2 939.0) rotate(0) skewY(22)" font-family="Liberation Serif" font-size="18.5" font-weight="normal" font-style="normal" text-anchor="middle" dominant-baseline="central" fill="#222" stroke="#222" stroke-width="0.45">30</text><text x="0" y="0" transform="translate(477.5 900.0) rotate(0) skewY(22)" font-family="Liberation Serif" font-size="18.5" font-weight="normal" font-style="normal" text-anchor="middle" dominant-baseline="central" fill="#222" stroke="#222" stroke-width="0.45">35</text><text x="0" y="0" transform="translate(478.8 859.8) rotate(0) skewY(22)" font-family="Liberation Serif" font-size="18.5" font-weight="normal" font-style="normal" text-anchor="middle" dominant-baseline="central" fill="#222" stroke="#222" stroke-width="0.45">40</text><text x="0" y="0" transform="translate(481.4 819.6) rotate(0) skewY(22)" font-family="Liberation Serif" font-size="18.5" font-weight="normal" font-style="normal" text-anchor="middle" dominant-baseline="central" fill="#222" stroke="#222" stroke-width="0.45">45</text><text x="0" y="0" transform="translate(485.0 778.8) rotate(0) skewY(22)" font-family="Liberation Serif" font-size="18.5" font-weight="normal" font-style="normal" text-anchor="middle" dominant-baseline="central" fill="#222" stroke="#222" stroke-width="0.45">50</text><text x="0" y="0" transform="translate(488.0 734.4) rotate(0) skewY(22)" font-family="Liberation Serif" font-size="18.5" font-weight="normal" font-style="normal" text-anchor="middle" dominant-baseline="central" fill="#222" stroke="#222" stroke-width="0.45">55</text><text x="0" y="0" transform="translate(490.3 691.4) rotate(0) skewY(22)" font-family="Liberation Serif" font-size="18.5" font-weight="normal" font-style="normal" text-anchor="middle" dominant-baseline="central" fill="#222" stroke="#222" stroke-width="0.45">60</text><text x="0" y="0" transform="translate(493.0 646.0) rotate(0) skewY(22)" font-family="Liberation Serif" font-size="18.5" font-weight="normal" font-style="normal" text-anchor="middle" dominant-baseline="central" fill="#222" stroke="#222" stroke-width="0.45">65</text><text x="0" y="0" transform="matrix(0.6863 0.7273 -0.9453 0.3261 54.4 977.5)" font-family="Liberation Serif" font-size="16" font-weight="bold" font-style="normal" text-anchor="middle" dominant-baseline="central" fill="#1a1a1a" textLength="96" lengthAdjust="spacingAndGlyphs">PETMP(wt%)</text><text x="0" y="0" transform="matrix(0.9453 -0.3261 0.6863 0.7273 359.9 1019.4)" font-family="Liberation Serif" font-size="16" font-weight="bold" font-style="normal" text-anchor="middle" dominant-baseline="central" fill="#1a1a1a" textLength="174" lengthAdjust="spacingAndGlyphs">PEGDA600(wt%)</text><text x="0" y="0" transform="translate(504.7 817.0) rotate(-86)" font-family="Liberation Serif" font-size="18" font-weight="bold" font-style="italic" text-anchor="middle" dominant-baseline="central" fill="#1a1a1a" textLength="93" lengthAdjust="spacingAndGlyphs">LC(wt%)</text><text x="0" y="0" transform="matrix(0.9474 -0.3201 0.7288 0.6848 640.2 909.0)" font-family="Liberation Serif" font-size="15" font-weight="bold" font-style="normal" text-anchor="middle" dominant-baseline="central" fill="#1a1a1a" textLength="38" lengthAdjust="spacingAndGlyphs">0.06</text><text x="0" y="0" transform="matrix(0.9474 -0.3201 0.7288 0.6848 665.2 935.2)" font-family="Liberation Serif" font-size="15" font-weight="bold" font-style="normal" text-anchor="middle" dominant-baseline="central" fill="#1a1a1a" textLength="38" lengthAdjust="spacingAndGlyphs">0.08</text><text x="0" y="0" transform="matrix(0.9474 -0.3201 0.7288 0.6848 692.5 960.3)" font-family="Liberation Serif" font-size="15" font-weight="bold" font-style="normal" text-anchor="middle" dominant-baseline="central" fill="#1a1a1a" textLength="38" lengthAdjust="spacingAndGlyphs">0.10</text><text x="0" y="0" transform="matrix(0.9474 -0.3201 0.7288 0.6848 723.0 988.7)" font-family="Liberation Serif" font-size="15" font-weight="bold" font-style="normal" text-anchor="middle" dominant-baseline="central" fill="#1a1a1a" textLength="38" lengthAdjust="spacingAndGlyphs">0.12</text><text x="0" y="0" transform="matrix(0.9474 -0.3201 0.7288 0.6848 753.5 1019.2)" font-family="Liberation Serif" font-size="15" font-weight="bold" font-style="normal" text-anchor="middle" dominant-baseline="central" fill="#1a1a1a" textLength="38" lengthAdjust="spacingAndGlyphs">0.14</text><text x="0" y="0" transform="matrix(0.9474 -0.3201 0.7288 0.6848 786.2 1053.0)" font-family="Liberation Serif" font-size="15" font-weight="bold" font-style="normal" text-anchor="middle" dominant-baseline="central" fill="#1a1a1a" textLength="38" lengthAdjust="spacingAndGlyphs">0.16</text><text x="0" y="0" transform="matrix(0.7288 0.6848 -0.9474 0.3201 867.4 1046.0)" font-family="Liberation Serif" font-size="14" font-weight="bold" font-style="normal" text-anchor="middle" dominant-baseline="central" fill="#1a1a1a" textLength="30" lengthAdjust="spacingAndGlyphs">0.28</text><text x="0" y="0" transform="matrix(0.7288 0.6848 -0.9474 0.3201 932.5 1027.0)" font-family="Liberation Serif" font-size="14" font-weight="bold" font-style="normal" text-anchor="middle" dominant-baseline="central" fill="#1a1a1a" textLength="30" lengthAdjust="spacingAndGlyphs">0.24</text><text x="0" y="0" transform="matrix(0.7288 0.6848 -0.9474 0.3201 990.3 1005.4)" font-family="Liberation Serif" font-size="14" font-weight="bold" font-style="normal" text-anchor="middle" dominant-baseline="central" fill="#1a1a1a" textLength="30" lengthAdjust="spacingAndGlyphs">0.20</text><text x="0" y="0" transform="matrix(0.7288 0.6848 -0.9474 0.3201 1045.6 986.1)" font-family="Liberation Serif" font-size="14" font-weight="bold" font-style="normal" text-anchor="middle" dominant-baseline="central" fill="#1a1a1a" textLength="30" lengthAdjust="spacingAndGlyphs">0.16</text><text x="0" y="0" transform="matrix(0.7288 0.6848 -0.9474 0.3201 1097.4 968.0)" font-family="Liberation Serif" font-size="14" font-weight="bold" font-style="normal" text-anchor="middle" dominant-baseline="central" fill="#1a1a1a" textLength="30" lengthAdjust="spacingAndGlyphs">0.12</text><text x="0" y="0" transform="translate(1120.3 942.8) rotate(0) skewY(22)" font-family="Liberation Serif" font-size="18.5" font-weight="normal" font-style="normal" text-anchor="middle" dominant-baseline="central" fill="#222" stroke="#222" stroke-width="0.45">30</text><text x="0" y="0" transform="translate(1123.9 907.9) rotate(0) skewY(22)" font-family="Liberation Serif" font-size="18.5" font-weight="normal" font-style="normal" text-anchor="middle" dominant-baseline="central" fill="#222" stroke="#222" stroke-width="0.45">35</text><text x="0" y="0" transform="translate(1128.1 871.9) rotate(0) skewY(22)" font-family="Liberation Serif" font-size="18.5" font-weight="normal" font-style="normal" text-anchor="middle" dominant-baseline="central" fill="#222" stroke="#222" stroke-width="0.45">40</text><text x="0" y="0" transform="translate(1132.6 835.6) rotate(0) skewY(22)" font-family="Liberation Serif" font-size="18.5" font-weight="normal" font-style="normal" text-anchor="middle" dominant-baseline="central" fill="#222" stroke="#222" stroke-width="0.45">45</text><text x="0" y="0" transform="translate(1136.3 796.3) rotate(0) skewY(22)" font-family="Liberation Serif" font-size="18.5" font-weight="normal" font-style="normal" text-anchor="middle" dominant-baseline="central" fill="#222" stroke="#222" stroke-width="0.45">50</text><text x="0" y="0" transform="translate(1141.5 757.8) rotate(0) skewY(22)" font-family="Liberation Serif" font-size="18.5" font-weight="normal" font-style="normal" text-anchor="middle" dominant-baseline="central" fill="#222" stroke="#222" stroke-width="0.45">55</text><text x="0" y="0" transform="translate(1145.0 720.0) rotate(0) skewY(22)" font-family="Liberation Serif" font-size="18.5" font-weight="normal" font-style="normal" text-anchor="middle" dominant-baseline="central" fill="#222" stroke="#222" stroke-width="0.45">60</text><text x="0" y="0" transform="translate(1150.2 679.8) rotate(0) skewY(22)" font-family="Liberation Serif" font-size="18.5" font-weight="normal" font-style="normal" text-anchor="middle" dominant-baseline="central" fill="#222" stroke="#222" stroke-width="0.45">65</text><text x="0" y="0" transform="translate(1154.0 638.3) rotate(0) skewY(22)" font-family="Liberation Serif" font-size="18.5" font-weight="normal" font-style="normal" text-anchor="middle" dominant-baseline="central" fill="#222" stroke="#222" stroke-width="0.45">70</text><text x="0" y="0" transform="matrix(0.7288 0.6848 -0.9474 0.3201 663.5 980.0)" font-family="Liberation Serif" font-size="16" font-weight="bold" font-style="normal" text-anchor="middle" dominant-baseline="central" fill="#1a1a1a" textLength="84" lengthAdjust="spacingAndGlyphs">C=C(wt%)</text><text x="0" y="0" transform="matrix(0.9474 -0.3201 0.7288 0.6848 1018.0 1028.8)" font-family="Liberation Serif" font-size="17" font-weight="bold" font-style="normal" text-anchor="middle" dominant-baseline="central" fill="#1a1a1a" textLength="97" lengthAdjust="spacingAndGlyphs">SH(wt%)</text><text x="0" y="0" transform="translate(1159.0 815.0) rotate(-82)" font-family="Liberation Serif" font-size="19" font-weight="bold" font-style="italic" text-anchor="middle" dominant-baseline="central" fill="#1a1a1a" textLength="96" lengthAdjust="spacingAndGlyphs">LC(wt%)</text></svg></body></html>
